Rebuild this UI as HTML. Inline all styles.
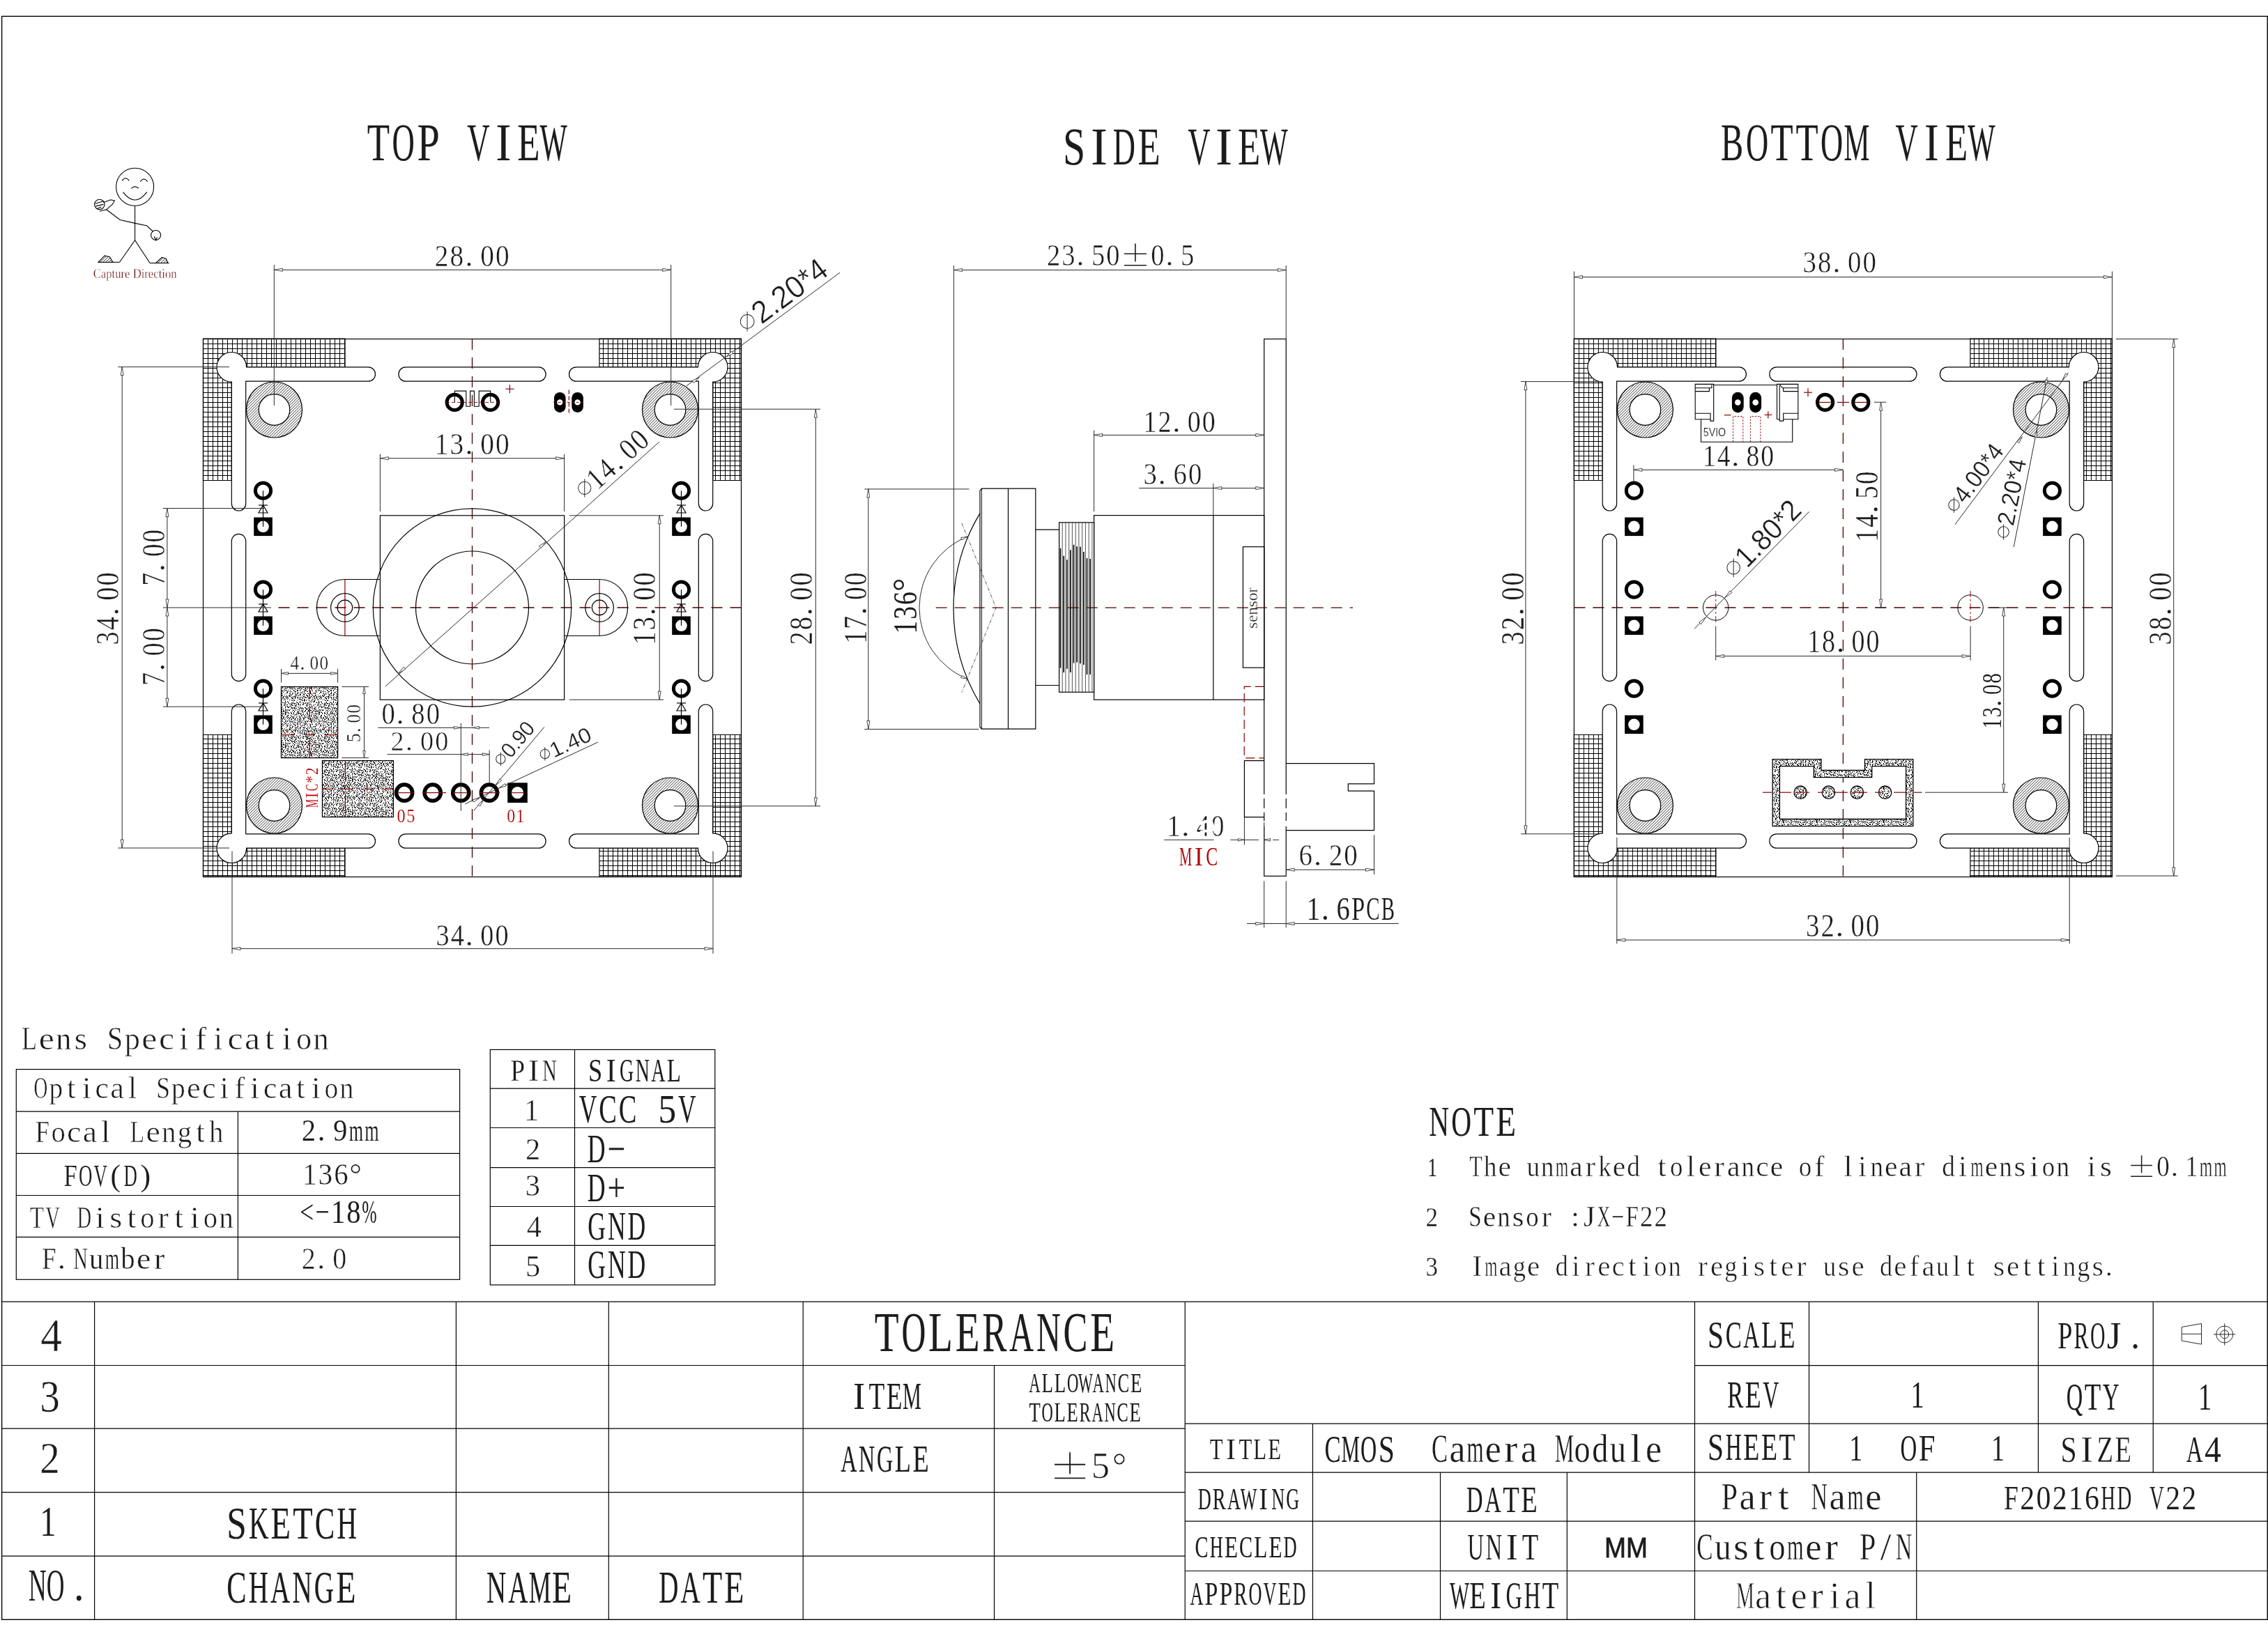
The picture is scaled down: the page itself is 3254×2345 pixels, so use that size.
<!DOCTYPE html>
<html><head><meta charset="utf-8"><title>drawing</title><style>
html,body{margin:0;padding:0;background:#fff}
svg{display:block;will-change:transform}
.o{fill:none;stroke:#000;stroke-width:1.2}
.ow{fill:#fff;stroke:#000;stroke-width:1.2}
.d{fill:none;stroke:#2a2a2a;stroke-width:1}
.c{fill:none;stroke:#4a0000;stroke-width:1.3;stroke-dasharray:16 11}
.r{fill:none;stroke:#8a0000;stroke-width:1.2}
.ah{fill:#fff;stroke:#333;stroke-width:0.9}
.gl{fill:none;stroke:#000;stroke-width:1.0}
.dh{fill:url(#diag);stroke:#000;stroke-width:1.2}
.st{fill:url(#stp);stroke:#000;stroke-width:1.3}
.ring{fill:none;stroke:#000}
.blk{fill:#000;stroke:none}
.blkf{fill:#222;stroke:#000;stroke-width:1}
.wh{fill:#fff;stroke:none}
.wl{fill:none;stroke:#fff;stroke-width:2.5}
text{white-space:pre}
</style></head><body>
<svg width="3254" height="2345" viewBox="0 0 3254 2345">
<defs>
<pattern id="grid" width="7" height="7" patternUnits="userSpaceOnUse" x="0.5" y="0.5"><rect width="7" height="7" fill="#fff"/><path d="M0 0.6H7M0.6 0V7" stroke="#000" stroke-width="1.25"/></pattern>
<pattern id="diag" width="4" height="4" patternUnits="userSpaceOnUse"><rect width="4" height="4" fill="#fff"/><path d="M-1 5L5 -1M-1 1L1 -1M3 5L5 3" stroke="#000" stroke-width="0.8"/></pattern>
<pattern id="stp" width="48" height="48" patternUnits="userSpaceOnUse"><rect width="48" height="48" fill="#fff"/><path d="M1 0h1M3 0h1M6 0h1M8 0h1M10 0h1M14 0h1M21 0h2M24 0h1M26 0h1M29 0h1M34 0h1M36 0h1M42 0h2M46 0h1M3 1h2M6 1h1M9 1h1M11 1h1M25 1h1M30 1h1M33 1h1M35 1h1M37 1h2M40 1h1M44 1h1M2 2h1M7 2h1M9 2h1M13 2h1M23 2h2M31 2h1M33 2h1M35 2h1M38 2h1M40 2h1M43 2h2M47 2h1M2 3h2M8 3h1M11 3h2M14 3h1M18 3h1M20 3h1M25 3h1M27 3h2M33 3h2M41 3h1M44 3h1M46 3h1M7 4h1M9 4h1M17 4h1M23 4h2M33 4h1M35 4h2M39 4h2M46 4h1M7 5h1M9 5h1M12 5h1M14 5h2M26 5h1M28 5h1M31 5h1M39 5h1M41 5h1M12 6h1M16 6h1M19 6h1M21 6h1M25 6h1M28 6h2M32 6h2M39 6h1M43 6h1M46 6h1M1 7h1M5 7h2M10 7h1M12 7h2M15 7h1M20 7h1M25 7h1M29 7h2M34 7h2M37 7h2M44 7h1M47 7h1M0 8h1M2 8h1M6 8h1M8 8h1M10 8h1M12 8h1M15 8h1M18 8h2M34 8h1M36 8h1M38 8h1M40 8h2M45 8h1M47 8h1M0 9h1M2 9h2M7 9h2M12 9h1M16 9h1M18 9h1M20 9h1M22 9h1M25 9h1M35 9h1M38 9h2M45 9h1M7 10h1M9 10h1M11 10h2M19 10h2M26 10h1M28 10h1M30 10h1M32 10h1M42 10h1M44 10h1M0 11h1M2 11h1M6 11h1M10 11h2M13 11h2M17 11h1M22 11h1M25 11h1M27 11h1M30 11h2M36 11h2M40 11h1M45 11h1M1 12h2M5 12h2M10 12h1M17 12h1M19 12h2M22 12h2M25 12h1M28 12h1M38 12h1M43 12h1M46 12h1M1 13h1M4 13h1M9 13h1M11 13h2M15 13h2M20 13h1M22 13h1M24 13h1M26 13h1M35 13h1M38 13h1M42 13h1M44 13h1M2 14h1M8 14h1M14 14h1M16 14h1M25 14h2M28 14h2M33 14h1M37 14h1M42 14h1M44 14h1M3 15h1M8 15h1M12 15h1M15 15h1M20 15h2M25 15h2M30 15h1M33 15h2M37 15h1M42 15h1M44 15h2M47 15h1M0 16h1M8 16h2M12 16h1M17 16h1M19 16h1M22 16h2M25 16h1M30 16h1M34 16h1M37 16h1M41 16h1M43 16h2M46 16h1M2 17h2M6 17h1M9 17h1M15 17h1M21 17h1M25 17h2M36 17h1M39 17h1M41 17h1M47 17h1M0 18h1M4 18h1M11 18h2M14 18h1M18 18h1M20 18h1M28 18h2M33 18h1M38 18h1M40 18h1M0 19h2M4 19h1M7 19h1M9 19h1M11 19h1M14 19h1M18 19h1M20 19h2M24 19h1M29 19h1M33 19h1M43 19h1M45 19h1M5 20h1M10 20h1M14 20h1M18 20h1M22 20h1M27 20h2M34 20h2M37 20h1M41 20h1M46 20h1M2 21h1M5 21h2M8 21h1M19 21h1M22 21h2M27 21h1M29 21h1M32 21h1M35 21h1M37 21h1M41 21h1M45 21h2M3 22h2M9 22h2M13 22h1M16 22h2M19 22h2M22 22h1M25 22h1M29 22h1M31 22h2M36 22h2M39 22h1M47 22h2M3 23h2M10 23h1M12 23h2M15 23h1M21 23h1M23 23h1M28 23h1M31 23h1M34 23h1M36 23h1M39 23h1M42 23h2M45 23h1M47 23h1M3 24h1M12 24h2M15 24h1M18 24h1M21 24h1M24 24h1M30 24h1M33 24h2M38 24h2M45 24h1M47 24h1M5 25h1M10 25h1M13 25h2M16 25h1M18 25h1M25 25h2M40 25h1M42 25h2M45 25h1M47 25h2M1 26h1M3 26h1M8 26h1M14 26h2M19 26h1M21 26h1M28 26h1M30 26h2M33 26h1M36 26h1M38 26h1M46 26h1M5 27h2M8 27h2M11 27h1M13 27h2M17 27h1M21 27h1M25 27h2M28 27h1M32 27h1M34 27h2M44 27h2M47 27h1M0 28h2M6 28h1M14 28h2M19 28h1M23 28h1M26 28h1M31 28h1M33 28h1M36 28h1M38 28h2M42 28h2M45 28h1M3 29h1M5 29h1M8 29h1M15 29h1M24 29h1M35 29h1M40 29h1M47 29h1M4 30h1M6 30h2M11 30h1M21 30h1M25 30h2M29 30h1M32 30h1M37 30h1M42 30h2M46 30h1M5 31h2M13 31h1M15 31h2M20 31h1M22 31h1M24 31h1M27 31h1M37 31h2M42 31h2M46 31h1M2 32h1M4 32h1M8 32h2M12 32h2M21 32h1M28 32h1M30 32h1M32 32h1M34 32h1M39 32h2M1 33h1M4 33h1M13 33h1M22 33h1M27 33h2M32 33h1M39 33h1M43 33h1M47 33h1M0 34h1M13 34h1M17 34h1M19 34h2M28 34h1M35 34h1M37 34h1M43 34h1M2 35h1M4 35h1M6 35h1M9 35h2M12 35h2M15 35h1M18 35h1M20 35h1M26 35h1M31 35h2M35 35h1M39 35h1M42 35h2M46 35h1M3 36h2M15 36h1M33 36h1M35 36h1M40 36h2M46 36h2M4 37h1M7 37h2M11 37h1M15 37h1M20 37h2M24 37h1M31 37h1M33 37h1M39 37h1M43 37h1M46 37h1M2 38h1M8 38h2M16 38h1M18 38h1M20 38h1M27 38h1M30 38h2M33 38h1M40 38h2M44 38h1M46 38h1M3 39h2M9 39h1M14 39h1M17 39h1M19 39h1M22 39h1M24 39h1M26 39h1M28 39h1M31 39h2M36 39h1M38 39h2M0 40h1M2 40h1M5 40h2M8 40h1M10 40h1M14 40h1M18 40h2M21 40h2M25 40h1M27 40h1M29 40h1M34 40h1M37 40h1M39 40h2M42 40h2M46 40h1M2 41h1M5 41h1M7 41h1M11 41h1M13 41h1M16 41h1M22 41h1M27 41h2M34 41h2M39 41h1M43 41h1M46 41h1M2 42h1M10 42h2M18 42h2M21 42h1M23 42h1M26 42h1M29 42h1M35 42h2M39 42h1M43 42h1M46 42h1M1 43h1M4 43h2M16 43h1M24 43h1M28 43h1M33 43h1M36 43h1M45 43h1M47 43h1M0 44h1M4 44h1M8 44h1M11 44h1M15 44h1M18 44h1M20 44h1M23 44h1M25 44h1M31 44h1M38 44h1M43 44h1M46 44h1M1 45h2M4 45h2M7 45h1M11 45h1M15 45h1M19 45h1M34 45h2M37 45h2M4 46h1M13 46h1M15 46h1M18 46h2M25 46h1M28 46h1M46 46h1M12 47h1M17 47h2M25 47h1M29 47h1M36 47h1M41 47h1M46 47h1" stroke="#000" stroke-width="1" transform="translate(0 0.5)"/></pattern>
</defs>
<rect class="o" x="2.6" y="23.4" width="3250.6" height="2300.9" style="stroke-width:1.4"/>
<path class="o" d="M2.6 1868.2L3253.2 1868.2"/>
<path class="o" d="M2.6 1959.5L1700.2 1959.5"/>
<path class="o" d="M2.6 2050.2L1700.2 2050.2"/>
<path class="o" d="M2.6 2141.7L1700.2 2141.7"/>
<path class="o" d="M2.6 2233.2L1700.2 2233.2"/>
<path class="o" d="M135.6 1868.2L135.6 2324.3"/>
<path class="o" d="M654.4 1868.2L654.4 2324.3"/>
<path class="o" d="M873.3 1868.2L873.3 2324.3"/>
<path class="o" d="M1152.2 1868.2L1152.2 2324.3"/>
<path class="o" d="M1700.2 1868.2L1700.2 2324.3"/>
<path class="o" d="M1426.5 1959.5L1426.5 2324.3"/>
<path class="o" d="M1700.2 2043.2L3253.2 2043.2"/>
<path class="o" d="M1700.2 2113.2L3253.2 2113.2"/>
<path class="o" d="M1700.2 2183.2L3253.2 2183.2"/>
<path class="o" d="M1700.2 2254.5L3253.2 2254.5"/>
<path class="o" d="M2431.5 1959.6L3253.2 1959.6"/>
<path class="o" d="M1883.4 2043.2L1883.4 2324.3"/>
<path class="o" d="M2066.5 2113.2L2066.5 2324.3"/>
<path class="o" d="M2248.3 2113.2L2248.3 2324.3"/>
<path class="o" d="M2431.5 1868.2L2431.5 2324.3"/>
<path class="o" d="M2595.5 1868.2L2595.5 2113.2"/>
<path class="o" d="M2924.4 1868.2L2924.4 2113.2"/>
<path class="o" d="M3089.2 1868.2L3089.2 2113.2"/>
<path class="o" d="M2749.7 2113.2L2749.7 2324.3"/>
<g transform="translate(59 1938.5)">
<g style="font-family:'Liberation Serif';font-size:67.9px;fill:#1c1c1c;stroke:#fff;stroke-width:0.5;text-anchor:middle">
<text transform="matrix(0.904 0 0 1 14.5 0)">4</text>
</g>
</g>
<g transform="translate(58.1 2026.2)">
<g style="font-family:'Liberation Serif';font-size:65.3px;fill:#1c1c1c;stroke:#fff;stroke-width:0.4;text-anchor:middle">
<text transform="matrix(0.875 0 0 1 13.5 0)">3</text>
</g>
</g>
<g transform="translate(58.1 2113.9)">
<g style="font-family:'Liberation Serif';font-size:63.1px;fill:#1c1c1c;stroke:#fff;stroke-width:0.5;text-anchor:middle">
<text transform="matrix(0.907 0 0 1 13.5 0)">2</text>
</g>
</g>
<g transform="translate(58 2203.8)">
<g style="font-family:'Liberation Serif';font-size:61.8px;fill:#1c1c1c;stroke:#1c1c1c;stroke-width:0;text-anchor:middle">
<text transform="matrix(0.753 0 0 1 11 0)">1</text>
</g>
</g>
<g transform="translate(42.9 2296.6)">
<g style="font-family:'Liberation Serif';font-size:64.6px;fill:#1c1c1c;text-anchor:middle">
<text transform="matrix(0.55 0 0 1 11 0)">N</text>
<text transform="matrix(0.55 0 0 1 36.8 0)">O</text>
<text transform="matrix(0.928 0 0 1 70.3 0)">.</text>
</g>
</g>
<g transform="translate(326.1 2208.3)">
<g style="font-family:'Liberation Serif';font-size:66.4px;fill:#1c1c1c;stroke:#1c1c1c;stroke-width:0.1;text-anchor:middle">
<text transform="matrix(0.771 0 0 1 13.4 0)">S</text>
<text transform="matrix(0.594 0 0 1 45.1 0)">K</text>
<text transform="matrix(0.702 0 0 1 76.7 0)">E</text>
<text transform="matrix(0.702 0 0 1 108.4 0)">T</text>
<text transform="matrix(0.643 0 0 1 140 0)">C</text>
<text transform="matrix(0.594 0 0 1 171.7 0)">H</text>
</g>
</g>
<g transform="translate(326.1 2299.8)">
<g style="font-family:'Liberation Serif';font-size:65.3px;fill:#1c1c1c;stroke:#1c1c1c;stroke-width:0.2;text-anchor:middle">
<text transform="matrix(0.648 0 0 1 13.3 0)">C</text>
<text transform="matrix(0.599 0 0 1 44.7 0)">H</text>
<text transform="matrix(0.599 0 0 1 76.1 0)">A</text>
<text transform="matrix(0.599 0 0 1 107.5 0)">N</text>
<text transform="matrix(0.599 0 0 1 138.9 0)">G</text>
<text transform="matrix(0.708 0 0 1 170.3 0)">E</text>
</g>
</g>
<g transform="translate(698.7 2299.8)">
<g style="font-family:'Liberation Serif';font-size:65.3px;fill:#1c1c1c;stroke:#1c1c1c;stroke-width:0.2;text-anchor:middle">
<text transform="matrix(0.597 0 0 1 13.3 0)">N</text>
<text transform="matrix(0.597 0 0 1 44.6 0)">A</text>
<text transform="matrix(0.55 0 0 1 76 0)">M</text>
<text transform="matrix(0.706 0 0 1 107.3 0)">E</text>
</g>
</g>
<g transform="translate(946 2299.8)">
<g style="font-family:'Liberation Serif';font-size:65.3px;fill:#1c1c1c;stroke:#1c1c1c;stroke-width:0.1;text-anchor:middle">
<text transform="matrix(0.598 0 0 1 13.3 0)">D</text>
<text transform="matrix(0.598 0 0 1 44.7 0)">A</text>
<text transform="matrix(0.707 0 0 1 76 0)">T</text>
<text transform="matrix(0.707 0 0 1 107.4 0)">E</text>
</g>
</g>
<g transform="translate(1255.6 1938.5)">
<g style="font-family:'Liberation Serif';font-size:81.4px;fill:#1c1c1c;stroke:#1c1c1c;stroke-width:0.2;text-anchor:middle">
<text transform="matrix(0.701 0 0 1 16.5 0)">T</text>
<text transform="matrix(0.593 0 0 1 55.2 0)">O</text>
<text transform="matrix(0.701 0 0 1 93.9 0)">L</text>
<text transform="matrix(0.701 0 0 1 132.6 0)">E</text>
<text transform="matrix(0.642 0 0 1 171.3 0)">R</text>
<text transform="matrix(0.593 0 0 1 210 0)">A</text>
<text transform="matrix(0.593 0 0 1 248.7 0)">N</text>
<text transform="matrix(0.642 0 0 1 287.4 0)">C</text>
<text transform="matrix(0.701 0 0 1 326.1 0)">E</text>
</g>
</g>
<g transform="translate(1221.9 2022.4)">
<g style="font-family:'Liberation Serif';font-size:55px;fill:#1c1c1c;text-anchor:middle">
<text transform="matrix(0.938 0 0 1 10.8 0)">I</text>
<text transform="matrix(0.678 0 0 1 36.1 0)">T</text>
<text transform="matrix(0.678 0 0 1 61.3 0)">E</text>
<text transform="matrix(0.55 0 0 1 86.6 0)">M</text>
</g>
</g>
<g transform="translate(1476.8 1997.7)">
<g style="font-family:'Liberation Serif';font-size:40.2px;fill:#1c1c1c;stroke:#1c1c1c;stroke-width:0.1;text-anchor:middle">
<text transform="matrix(0.565 0 0 1 7.7 0)">A</text>
<text transform="matrix(0.668 0 0 1 25.9 0)">L</text>
<text transform="matrix(0.668 0 0 1 44.1 0)">L</text>
<text transform="matrix(0.565 0 0 1 62.3 0)">O</text>
<text transform="matrix(0.55 0 0 1 80.6 0)">W</text>
<text transform="matrix(0.565 0 0 1 98.8 0)">A</text>
<text transform="matrix(0.565 0 0 1 117 0)">N</text>
<text transform="matrix(0.612 0 0 1 135.2 0)">C</text>
<text transform="matrix(0.668 0 0 1 153.4 0)">E</text>
</g>
</g>
<g transform="translate(1476.8 2039.7)">
<g style="font-family:'Liberation Serif';font-size:40.2px;fill:#1c1c1c;stroke:#1c1c1c;stroke-width:0.1;text-anchor:middle">
<text transform="matrix(0.662 0 0 1 7.7 0)">T</text>
<text transform="matrix(0.56 0 0 1 25.7 0)">O</text>
<text transform="matrix(0.662 0 0 1 43.7 0)">L</text>
<text transform="matrix(0.662 0 0 1 61.8 0)">E</text>
<text transform="matrix(0.606 0 0 1 79.8 0)">R</text>
<text transform="matrix(0.56 0 0 1 97.8 0)">A</text>
<text transform="matrix(0.56 0 0 1 115.9 0)">N</text>
<text transform="matrix(0.606 0 0 1 133.9 0)">C</text>
<text transform="matrix(0.662 0 0 1 151.9 0)">E</text>
</g>
</g>
<g transform="translate(1206.9 2112.4)">
<g style="font-family:'Liberation Serif';font-size:53.9px;fill:#1c1c1c;stroke:#1c1c1c;stroke-width:0.1;text-anchor:middle">
<text transform="matrix(0.597 0 0 1 11 0)">A</text>
<text transform="matrix(0.597 0 0 1 36.8 0)">N</text>
<text transform="matrix(0.597 0 0 1 62.6 0)">G</text>
<text transform="matrix(0.706 0 0 1 88.4 0)">L</text>
<text transform="matrix(0.706 0 0 1 114.2 0)">E</text>
</g>
</g>
<g transform="translate(1508 2121.4)">
<g style="font-family:'Liberation Serif';font-size:52.5px;fill:#1c1c1c;stroke:#fff;stroke-width:0.7;text-anchor:middle">
<path d="M5.1 -19.6H49.1M27.1 -37.2V-6.2M5.1 0H49.1" style="fill:none;stroke:#1c1c1c;stroke-width:1.9"/>
<text transform="matrix(1.004 0 0 1 71 0)">5</text>
<text transform="matrix(1 0 0 1 98 0)">°</text>
</g>
</g>
<g transform="translate(2450.6 1933.5)">
<g style="font-family:'Liberation Serif';font-size:54px;fill:#1c1c1c;stroke:#1c1c1c;stroke-width:0.1;text-anchor:middle">
<text transform="matrix(0.768 0 0 1 10.9 0)">S</text>
<text transform="matrix(0.64 0 0 1 36.6 0)">C</text>
<text transform="matrix(0.591 0 0 1 62.2 0)">A</text>
<text transform="matrix(0.699 0 0 1 87.8 0)">L</text>
<text transform="matrix(0.699 0 0 1 113.5 0)">E</text>
</g>
</g>
<g transform="translate(2478.9 2019.7)">
<g style="font-family:'Liberation Serif';font-size:53.9px;fill:#1c1c1c;stroke:#1c1c1c;stroke-width:0.1;text-anchor:middle">
<text transform="matrix(0.64 0 0 1 10.9 0)">R</text>
<text transform="matrix(0.698 0 0 1 36.4 0)">E</text>
<text transform="matrix(0.591 0 0 1 61.9 0)">V</text>
</g>
</g>
<g transform="translate(2742.1 2019.7)">
<g style="font-family:'Liberation Serif';font-size:53.9px;fill:#1c1c1c;stroke:#1c1c1c;stroke-width:0.1;text-anchor:middle">
<text transform="matrix(0.707 0 0 1 9 0)">1</text>
</g>
</g>
<g transform="translate(2952.7 1934.9)">
<g style="font-family:'Liberation Serif';font-size:54px;fill:#1c1c1c;stroke:#fff;stroke-width:0.1;text-anchor:middle">
<text transform="matrix(0.703 0 0 1 10 0)">P</text>
<text transform="matrix(0.586 0 0 1 33.4 0)">R</text>
<text transform="matrix(0.55 0 0 1 56.9 0)">O</text>
<text transform="matrix(0.975 0 0 1 80.4 0)">J</text>
<text transform="matrix(0.975 0 0 1 110.9 0)">.</text>
</g>
</g>
<g transform="translate(2965.4 2023.3)">
<g style="font-family:'Liberation Serif';font-size:54px;fill:#1c1c1c;stroke:#1c1c1c;stroke-width:0.1;text-anchor:middle">
<text transform="matrix(0.601 0 0 1 11.1 0)">Q</text>
<text transform="matrix(0.711 0 0 1 37.1 0)">T</text>
<text transform="matrix(0.601 0 0 1 63.2 0)">Y</text>
</g>
</g>
<g transform="translate(3154.4 2023.3)">
<g style="font-family:'Liberation Serif';font-size:54px;fill:#1c1c1c;stroke:#1c1c1c;stroke-width:0.1;text-anchor:middle">
<text transform="matrix(0.705 0 0 1 9 0)">1</text>
</g>
</g>
<g transform="translate(1736.3 2094)">
<g style="font-family:'Liberation Serif';font-size:43.2px;fill:#1c1c1c;stroke:#fff;stroke-width:0.1;text-anchor:middle">
<text transform="matrix(0.711 0 0 1 8.9 0)">T</text>
<text transform="matrix(0.975 0 0 1 29.7 0)">I</text>
<text transform="matrix(0.711 0 0 1 50.6 0)">T</text>
<text transform="matrix(0.711 0 0 1 71.4 0)">L</text>
<text transform="matrix(0.711 0 0 1 92.2 0)">E</text>
</g>
</g>
<g transform="translate(1901.1 2097.5)">
<g style="font-family:'Liberation Serif';font-size:53.9px;fill:#1c1c1c;stroke:#1c1c1c;stroke-width:0.1;text-anchor:middle">
<text transform="matrix(0.644 0 0 1 10.9 0)">C</text>
<text transform="matrix(0.55 0 0 1 36.6 0)">M</text>
<text transform="matrix(0.595 0 0 1 62.4 0)">O</text>
<text transform="matrix(0.772 0 0 1 88.1 0)">S</text>
</g>
</g>
<g transform="translate(2054.5 2097.5)">
<g style="font-family:'Liberation Serif';font-size:56.2px;fill:#1c1c1c;stroke:#fff;stroke-width:0.3;text-anchor:middle">
<text transform="matrix(0.615 0 0 1 10.9 0)">C</text>
<text transform="matrix(0.924 0 0 1 36.5 0)">a</text>
<text transform="matrix(0.55 0 0 1 62.1 0)">m</text>
<text transform="matrix(0.924 0 0 1 87.7 0)">e</text>
<text transform="matrix(1.02 0 0 1 113.3 0)">r</text>
<text transform="matrix(0.924 0 0 1 138.9 0)">a</text>
<text transform="matrix(0.55 0 0 1 190 0)">M</text>
<text transform="matrix(0.82 0 0 1 215.6 0)">o</text>
<text transform="matrix(0.82 0 0 1 241.2 0)">d</text>
<text transform="matrix(0.82 0 0 1 266.8 0)">u</text>
<text transform="matrix(1.02 0 0 1 292.4 0)">l</text>
<text transform="matrix(0.924 0 0 1 318 0)">e</text>
</g>
</g>
<g transform="translate(2450.6 2095.4)">
<g style="font-family:'Liberation Serif';font-size:54px;fill:#1c1c1c;stroke:#1c1c1c;stroke-width:0.1;text-anchor:middle">
<text transform="matrix(0.768 0 0 1 10.9 0)">S</text>
<text transform="matrix(0.591 0 0 1 36.6 0)">H</text>
<text transform="matrix(0.699 0 0 1 62.2 0)">E</text>
<text transform="matrix(0.699 0 0 1 87.8 0)">E</text>
<text transform="matrix(0.699 0 0 1 113.5 0)">T</text>
</g>
</g>
<g transform="translate(2653.7 2096.1)">
<g style="font-family:'Liberation Serif';font-size:51.8px;fill:#1c1c1c;stroke:#1c1c1c;stroke-width:0;text-anchor:middle">
<text transform="matrix(0.736 0 0 1 9 0)">1</text>
</g>
</g>
<g transform="translate(2727.1 2096.1)">
<g style="font-family:'Liberation Serif';font-size:51.8px;fill:#1c1c1c;stroke:#1c1c1c;stroke-width:0;text-anchor:middle">
<text transform="matrix(0.635 0 0 1 11.2 0)">O</text>
<text transform="matrix(0.825 0 0 1 37.6 0)">F</text>
</g>
</g>
<g transform="translate(2857.4 2096.1)">
<g style="font-family:'Liberation Serif';font-size:51.8px;fill:#1c1c1c;stroke:#1c1c1c;stroke-width:0;text-anchor:middle">
<text transform="matrix(0.736 0 0 1 9 0)">1</text>
</g>
</g>
<g transform="translate(2956.9 2097.5)">
<g style="font-family:'Liberation Serif';font-size:51.8px;fill:#1c1c1c;stroke:#fff;stroke-width:0.3;text-anchor:middle">
<text transform="matrix(0.816 0 0 1 11.1 0)">S</text>
<text transform="matrix(1.02 0 0 1 37.2 0)">I</text>
<text transform="matrix(0.743 0 0 1 63.3 0)">Z</text>
<text transform="matrix(0.743 0 0 1 89.4 0)">E</text>
</g>
</g>
<g transform="translate(3137.3 2097.5)">
<g style="font-family:'Liberation Serif';font-size:51.8px;fill:#1c1c1c;text-anchor:middle">
<text transform="matrix(0.635 0 0 1 11.2 0)">A</text>
<text transform="matrix(0.917 0 0 1 37.6 0)">4</text>
</g>
</g>
<g transform="translate(1719.3 2166.1)">
<g style="font-family:'Liberation Serif';font-size:45.3px;fill:#1c1c1c;stroke:#1c1c1c;stroke-width:0.1;text-anchor:middle">
<text transform="matrix(0.579 0 0 1 9 0)">D</text>
<text transform="matrix(0.627 0 0 1 30 0)">R</text>
<text transform="matrix(0.579 0 0 1 51.1 0)">A</text>
<text transform="matrix(0.55 0 0 1 72.1 0)">W</text>
<text transform="matrix(0.808 0 0 1 93.2 0)">I</text>
<text transform="matrix(0.579 0 0 1 114.3 0)">N</text>
<text transform="matrix(0.579 0 0 1 135.3 0)">G</text>
</g>
</g>
<g transform="translate(2104.7 2169.7)">
<g style="font-family:'Liberation Serif';font-size:53px;fill:#1c1c1c;stroke:#1c1c1c;stroke-width:0.1;text-anchor:middle">
<text transform="matrix(0.614 0 0 1 11.1 0)">D</text>
<text transform="matrix(0.614 0 0 1 37.2 0)">A</text>
<text transform="matrix(0.726 0 0 1 63.3 0)">T</text>
<text transform="matrix(0.726 0 0 1 89.4 0)">E</text>
</g>
</g>
<g transform="translate(2470.4 2166.1)">
<g style="font-family:'Liberation Serif';font-size:53.9px;fill:#1c1c1c;stroke:#fff;stroke-width:0.4;text-anchor:middle">
<text transform="matrix(0.775 0 0 1 11 0)">P</text>
<text transform="matrix(0.971 0 0 1 36.8 0)">a</text>
<text transform="matrix(1.02 0 0 1 62.6 0)">r</text>
<text transform="matrix(1.02 0 0 1 88.4 0)">t</text>
<text transform="matrix(0.597 0 0 1 140 0)">N</text>
<text transform="matrix(0.971 0 0 1 165.8 0)">a</text>
<text transform="matrix(0.554 0 0 1 191.6 0)">m</text>
<text transform="matrix(0.971 0 0 1 217.4 0)">e</text>
</g>
</g>
<g transform="translate(2875.6 2166.1)">
<g style="font-family:'Liberation Serif';font-size:47.5px;fill:#1c1c1c;stroke:#fff;stroke-width:0.1;text-anchor:middle">
<text transform="matrix(0.791 0 0 1 9.9 0)">F</text>
<text transform="matrix(0.88 0 0 1 33.1 0)">2</text>
<text transform="matrix(0.88 0 0 1 56.3 0)">0</text>
<text transform="matrix(0.88 0 0 1 79.5 0)">2</text>
<text transform="matrix(0.88 0 0 1 102.7 0)">1</text>
<text transform="matrix(0.88 0 0 1 125.9 0)">6</text>
<text transform="matrix(0.609 0 0 1 149.2 0)">H</text>
<text transform="matrix(0.609 0 0 1 172.4 0)">D</text>
<text transform="matrix(0.609 0 0 1 218.8 0)">V</text>
<text transform="matrix(0.88 0 0 1 242 0)">2</text>
<text transform="matrix(0.88 0 0 1 265.2 0)">2</text>
</g>
</g>
<g transform="translate(1715.1 2235.4)">
<g style="font-family:'Liberation Serif';font-size:45.3px;fill:#1c1c1c;stroke:#1c1c1c;stroke-width:0.1;text-anchor:middle">
<text transform="matrix(0.629 0 0 1 9 0)">C</text>
<text transform="matrix(0.581 0 0 1 30.1 0)">H</text>
<text transform="matrix(0.687 0 0 1 51.3 0)">E</text>
<text transform="matrix(0.629 0 0 1 72.5 0)">C</text>
<text transform="matrix(0.687 0 0 1 93.6 0)">L</text>
<text transform="matrix(0.687 0 0 1 114.8 0)">E</text>
<text transform="matrix(0.581 0 0 1 135.9 0)">D</text>
</g>
</g>
<g transform="translate(2106.2 2237.6)">
<g style="font-family:'Liberation Serif';font-size:51.9px;fill:#1c1c1c;stroke:#fff;stroke-width:0.1;text-anchor:middle">
<text transform="matrix(0.626 0 0 1 11.1 0)">U</text>
<text transform="matrix(0.626 0 0 1 37.2 0)">N</text>
<text transform="matrix(0.964 0 0 1 63.2 0)">I</text>
<text transform="matrix(0.74 0 0 1 89.3 0)">T</text>
</g>
</g>
<g style="stroke:#1c1c1c;stroke-width:0.8">
<g transform="translate(2302 2234.8)">
<text style="font-family:'Liberation Sans';font-size:40.4px;fill:#1c1c1c" textLength="62" lengthAdjust="spacingAndGlyphs">MM</text>
</g>
</g>
<g transform="translate(2435 2237.6)">
<g style="font-family:'Liberation Serif';font-size:55.1px;fill:#1c1c1c;stroke:#fff;stroke-width:0.4;text-anchor:middle">
<text transform="matrix(0.636 0 0 1 11 0)">C</text>
<text transform="matrix(0.848 0 0 1 37 0)">u</text>
<text transform="matrix(1.02 0 0 1 62.9 0)">s</text>
<text transform="matrix(1.02 0 0 1 88.9 0)">t</text>
<text transform="matrix(0.848 0 0 1 114.9 0)">o</text>
<text transform="matrix(0.55 0 0 1 140.8 0)">m</text>
<text transform="matrix(0.955 0 0 1 166.8 0)">e</text>
<text transform="matrix(1.02 0 0 1 192.7 0)">r</text>
<text transform="matrix(0.762 0 0 1 244.7 0)">P</text>
<text transform="matrix(1.02 0 0 1 270.6 0)">/</text>
<text transform="matrix(0.587 0 0 1 296.6 0)">N</text>
</g>
</g>
<g transform="translate(1708 2302.6)">
<g style="font-family:'Liberation Serif';font-size:46.4px;fill:#1c1c1c;stroke:#1c1c1c;stroke-width:0.1;text-anchor:middle">
<text transform="matrix(0.564 0 0 1 8.9 0)">A</text>
<text transform="matrix(0.732 0 0 1 29.9 0)">P</text>
<text transform="matrix(0.732 0 0 1 50.9 0)">P</text>
<text transform="matrix(0.61 0 0 1 71.9 0)">R</text>
<text transform="matrix(0.564 0 0 1 92.9 0)">O</text>
<text transform="matrix(0.564 0 0 1 113.9 0)">V</text>
<text transform="matrix(0.666 0 0 1 134.9 0)">E</text>
<text transform="matrix(0.564 0 0 1 155.9 0)">D</text>
</g>
</g>
<g transform="translate(2082.8 2307.6)">
<g style="font-family:'Liberation Serif';font-size:54px;fill:#1c1c1c;stroke:#1c1c1c;stroke-width:0;text-anchor:middle">
<text transform="matrix(0.55 0 0 1 11.1 0)">W</text>
<text transform="matrix(0.712 0 0 1 37.2 0)">E</text>
<text transform="matrix(0.88 0 0 1 63.3 0)">I</text>
<text transform="matrix(0.602 0 0 1 89.5 0)">G</text>
<text transform="matrix(0.602 0 0 1 115.6 0)">H</text>
<text transform="matrix(0.712 0 0 1 141.7 0)">T</text>
</g>
</g>
<g transform="translate(2493 2307.6)">
<g style="font-family:'Liberation Serif';font-size:54px;fill:#1c1c1c;stroke:#fff;stroke-width:0.8;text-anchor:middle">
<text transform="matrix(0.55 0 0 1 10.9 0)">M</text>
<text transform="matrix(0.964 0 0 1 36.6 0)">a</text>
<text transform="matrix(1.02 0 0 1 62.3 0)">t</text>
<text transform="matrix(0.964 0 0 1 88 0)">e</text>
<text transform="matrix(1.02 0 0 1 113.6 0)">r</text>
<text transform="matrix(1.02 0 0 1 139.3 0)">i</text>
<text transform="matrix(0.964 0 0 1 165 0)">a</text>
<text transform="matrix(1.02 0 0 1 190.7 0)">l</text>
</g>
</g>
<path class="d" d="M3130.2 1904.5L3158.5 1899.5L3158.5 1929.2L3130.2 1924.2Z"/>
<path class="d" d="M3130.2 1914.4L3158.5 1914.4"/>
<circle class="d" cx="3191.7" cy="1915" r="12"/>
<circle class="d" cx="3191.7" cy="1915" r="6"/>
<path class="d" d="M3176 1915L3207.4 1915"/>
<path class="d" d="M3191.7 1899.3L3191.7 1930.7"/>
<g transform="translate(527.5 230)">
<g style="font-family:'Liberation Serif';font-size:75.6px;fill:#1c1c1c;stroke:#1c1c1c;stroke-width:0.1;text-anchor:middle">
<text transform="matrix(0.7 0 0 1 15.3 0)">T</text>
<text transform="matrix(0.592 0 0 1 51.2 0)">O</text>
<text transform="matrix(0.769 0 0 1 87.1 0)">P</text>
<text transform="matrix(0.592 0 0 1 159 0)">V</text>
<text transform="matrix(0.879 0 0 1 194.9 0)">I</text>
<text transform="matrix(0.7 0 0 1 230.8 0)">E</text>
<text transform="matrix(0.55 0 0 1 266.7 0)">W</text>
</g>
</g>
<g transform="translate(1526 236)">
<g style="font-family:'Liberation Serif';font-size:76.3px;fill:#1c1c1c;text-anchor:middle">
<text transform="matrix(0.759 0 0 1 15.2 0)">S</text>
<text transform="matrix(0.945 0 0 1 51 0)">I</text>
<text transform="matrix(0.585 0 0 1 86.9 0)">D</text>
<text transform="matrix(0.691 0 0 1 122.7 0)">E</text>
<text transform="matrix(0.585 0 0 1 194.3 0)">V</text>
<text transform="matrix(0.945 0 0 1 230.1 0)">I</text>
<text transform="matrix(0.691 0 0 1 266 0)">E</text>
<text transform="matrix(0.55 0 0 1 301.8 0)">W</text>
</g>
</g>
<g transform="translate(2470 230)">
<g style="font-family:'Liberation Serif';font-size:75.6px;fill:#1c1c1c;stroke:#1c1c1c;stroke-width:0.1;text-anchor:middle">
<text transform="matrix(0.638 0 0 1 15.2 0)">B</text>
<text transform="matrix(0.59 0 0 1 51 0)">O</text>
<text transform="matrix(0.697 0 0 1 86.7 0)">T</text>
<text transform="matrix(0.697 0 0 1 122.5 0)">T</text>
<text transform="matrix(0.59 0 0 1 158.2 0)">O</text>
<text transform="matrix(0.55 0 0 1 194 0)">M</text>
<text transform="matrix(0.59 0 0 1 265.5 0)">V</text>
<text transform="matrix(0.818 0 0 1 301.3 0)">I</text>
<text transform="matrix(0.697 0 0 1 337 0)">E</text>
<text transform="matrix(0.55 0 0 1 372.8 0)">W</text>
</g>
</g>
<g transform="translate(677.5 872)">
<path class="gl" d="M-386 -386V-345.2M-379 -386V-345.2M-372 -386V-345.2M-365 -386V-345.2M-358 -386V-345.2M-351 -386V-345.2M-344 -386V-345.2M-337 -386V-345.2M-330 -386V-345.2M-323 -386V-345.2M-316 -386V-345.2M-309 -386V-345.2M-302 -386V-345.2M-295 -386V-345.2M-288 -386V-345.2M-281 -386V-345.2M-274 -386V-345.2M-267 -386V-345.2M-260 -386V-345.2M-253 -386V-345.2M-246 -386V-345.2M-239 -386V-345.2M-232 -386V-345.2M-225 -386V-345.2M-218 -386V-345.2M-211 -386V-345.2M-204 -386V-345.2M-197 -386V-345.2M-190 -386V-345.2M-183 -386V-345.2M-386 -385.5H-182.5M-386 -378.5H-182.5M-386 -371.5H-182.5M-386 -364.5H-182.5M-386 -357.5H-182.5M-386 -350.5H-182.5"/>
<path class="gl" d="M-386 -345.2V-182.5M-379 -345.2V-182.5M-372 -345.2V-182.5M-365 -345.2V-182.5M-358 -345.2V-182.5M-351 -345.2V-182.5M-386 -343.5H-345.2M-386 -336.5H-345.2M-386 -329.5H-345.2M-386 -322.5H-345.2M-386 -315.5H-345.2M-386 -308.5H-345.2M-386 -301.5H-345.2M-386 -294.5H-345.2M-386 -287.5H-345.2M-386 -280.5H-345.2M-386 -273.5H-345.2M-386 -266.5H-345.2M-386 -259.5H-345.2M-386 -252.5H-345.2M-386 -245.5H-345.2M-386 -238.5H-345.2M-386 -231.5H-345.2M-386 -224.5H-345.2M-386 -217.5H-345.2M-386 -210.5H-345.2M-386 -203.5H-345.2M-386 -196.5H-345.2M-386 -189.5H-345.2M-386 -182.5H-345.2"/>
<path class="o" d="M-386 -386L-182.5 -386L-182.5 -345.2L-345.2 -345.2L-345.2 -182.5L-386 -182.5Z"/>
<path class="gl" d="M-386 345.2V386M-379 345.2V386M-372 345.2V386M-365 345.2V386M-358 345.2V386M-351 345.2V386M-344 345.2V386M-337 345.2V386M-330 345.2V386M-323 345.2V386M-316 345.2V386M-309 345.2V386M-302 345.2V386M-295 345.2V386M-288 345.2V386M-281 345.2V386M-274 345.2V386M-267 345.2V386M-260 345.2V386M-253 345.2V386M-246 345.2V386M-239 345.2V386M-232 345.2V386M-225 345.2V386M-218 345.2V386M-211 345.2V386M-204 345.2V386M-197 345.2V386M-190 345.2V386M-183 345.2V386M-386 349.5H-182.5M-386 356.5H-182.5M-386 363.5H-182.5M-386 370.5H-182.5M-386 377.5H-182.5M-386 384.5H-182.5"/>
<path class="gl" d="M-386 182.5V345.2M-379 182.5V345.2M-372 182.5V345.2M-365 182.5V345.2M-358 182.5V345.2M-351 182.5V345.2M-386 188.5H-345.2M-386 195.5H-345.2M-386 202.5H-345.2M-386 209.5H-345.2M-386 216.5H-345.2M-386 223.5H-345.2M-386 230.5H-345.2M-386 237.5H-345.2M-386 244.5H-345.2M-386 251.5H-345.2M-386 258.5H-345.2M-386 265.5H-345.2M-386 272.5H-345.2M-386 279.5H-345.2M-386 286.5H-345.2M-386 293.5H-345.2M-386 300.5H-345.2M-386 307.5H-345.2M-386 314.5H-345.2M-386 321.5H-345.2M-386 328.5H-345.2M-386 335.5H-345.2M-386 342.5H-345.2"/>
<path class="o" d="M-386 386L-182.5 386L-182.5 345.2L-345.2 345.2L-345.2 182.5L-386 182.5Z"/>
<path class="gl" d="M188 -386V-345.2M195 -386V-345.2M202 -386V-345.2M209 -386V-345.2M216 -386V-345.2M223 -386V-345.2M230 -386V-345.2M237 -386V-345.2M244 -386V-345.2M251 -386V-345.2M258 -386V-345.2M265 -386V-345.2M272 -386V-345.2M279 -386V-345.2M286 -386V-345.2M293 -386V-345.2M300 -386V-345.2M307 -386V-345.2M314 -386V-345.2M321 -386V-345.2M328 -386V-345.2M335 -386V-345.2M342 -386V-345.2M349 -386V-345.2M356 -386V-345.2M363 -386V-345.2M370 -386V-345.2M377 -386V-345.2M384 -386V-345.2M182.5 -385.5H386M182.5 -378.5H386M182.5 -371.5H386M182.5 -364.5H386M182.5 -357.5H386M182.5 -350.5H386"/>
<path class="gl" d="M349 -345.2V-182.5M356 -345.2V-182.5M363 -345.2V-182.5M370 -345.2V-182.5M377 -345.2V-182.5M384 -345.2V-182.5M345.2 -343.5H386M345.2 -336.5H386M345.2 -329.5H386M345.2 -322.5H386M345.2 -315.5H386M345.2 -308.5H386M345.2 -301.5H386M345.2 -294.5H386M345.2 -287.5H386M345.2 -280.5H386M345.2 -273.5H386M345.2 -266.5H386M345.2 -259.5H386M345.2 -252.5H386M345.2 -245.5H386M345.2 -238.5H386M345.2 -231.5H386M345.2 -224.5H386M345.2 -217.5H386M345.2 -210.5H386M345.2 -203.5H386M345.2 -196.5H386M345.2 -189.5H386M345.2 -182.5H386"/>
<path class="o" d="M386 -386L182.5 -386L182.5 -345.2L345.2 -345.2L345.2 -182.5L386 -182.5Z"/>
<path class="gl" d="M188 345.2V386M195 345.2V386M202 345.2V386M209 345.2V386M216 345.2V386M223 345.2V386M230 345.2V386M237 345.2V386M244 345.2V386M251 345.2V386M258 345.2V386M265 345.2V386M272 345.2V386M279 345.2V386M286 345.2V386M293 345.2V386M300 345.2V386M307 345.2V386M314 345.2V386M321 345.2V386M328 345.2V386M335 345.2V386M342 345.2V386M349 345.2V386M356 345.2V386M363 345.2V386M370 345.2V386M377 345.2V386M384 345.2V386M182.5 349.5H386M182.5 356.5H386M182.5 363.5H386M182.5 370.5H386M182.5 377.5H386M182.5 384.5H386"/>
<path class="gl" d="M349 182.5V345.2M356 182.5V345.2M363 182.5V345.2M370 182.5V345.2M377 182.5V345.2M384 182.5V345.2M345.2 188.5H386M345.2 195.5H386M345.2 202.5H386M345.2 209.5H386M345.2 216.5H386M345.2 223.5H386M345.2 230.5H386M345.2 237.5H386M345.2 244.5H386M345.2 251.5H386M345.2 258.5H386M345.2 265.5H386M345.2 272.5H386M345.2 279.5H386M345.2 286.5H386M345.2 293.5H386M345.2 300.5H386M345.2 307.5H386M345.2 314.5H386M345.2 321.5H386M345.2 328.5H386M345.2 335.5H386M345.2 342.5H386"/>
<path class="o" d="M386 386L182.5 386L182.5 345.2L345.2 345.2L345.2 182.5L386 182.5Z"/>
<rect class="o" x="-386" y="-385.5" width="772" height="772"/>
<path class="ow" d="M323.9 345.2A21.3 21.3 0 1 0 345.2 323.9L345.2 149.2A10.2 10.2 0 0 0 324.8 149.2L324.8 324.8L149.2 324.8A10.2 10.2 0 0 0 149.2 345.2Z"/>
<path class="ow" d="M323.9 -345.2A21.3 21.3 0 1 1 345.2 -323.9L345.2 -149.2A10.2 10.2 0 0 1 324.8 -149.2L324.8 -324.8L149.2 -324.8A10.2 10.2 0 0 1 149.2 -345.2Z"/>
<path class="ow" d="M-323.9 345.2A21.3 21.3 0 1 1 -345.2 323.9L-345.2 149.2A10.2 10.2 0 0 1 -324.8 149.2L-324.8 324.8L-149.2 324.8A10.2 10.2 0 0 1 -149.2 345.2Z"/>
<path class="ow" d="M-323.9 -345.2A21.3 21.3 0 1 0 -345.2 -323.9L-345.2 -149.2A10.2 10.2 0 0 0 -324.8 -149.2L-324.8 -324.8L-149.2 -324.8A10.2 10.2 0 0 0 -149.2 -345.2Z"/>
<rect class="ow" x="-105.6" y="-345.2" width="211.2" height="20.4" rx="10.2"/>
<rect class="ow" x="-345.2" y="-105.6" width="20.4" height="211.2" rx="10.2"/>
<rect class="ow" x="-105.6" y="324.8" width="211.2" height="20.4" rx="10.2"/>
<rect class="ow" x="324.8" y="-105.6" width="20.4" height="211.2" rx="10.2"/>
<circle class="dh" cx="-284" cy="-284" r="40"/>
<circle class="ow" cx="-284" cy="-284" r="22.3"/>
<circle class="dh" cx="-284" cy="284" r="40"/>
<circle class="ow" cx="-284" cy="284" r="22.3"/>
<circle class="dh" cx="284" cy="-284" r="40"/>
<circle class="ow" cx="284" cy="-284" r="22.3"/>
<circle class="dh" cx="284" cy="284" r="40"/>
<circle class="ow" cx="284" cy="284" r="22.3"/>
</g>
<circle class="ring" cx="377.5" cy="704.2" r="11.1" style="stroke-width:5"/>
<rect class="blk" x="364.2" y="742.5" width="26.6" height="26.6"/>
<circle class="wh" cx="377.5" cy="755.8" r="8.3"/>
<path class="o" d="M377.5 704.2L377.5 755.8"/>
<path class="ow" d="M371 736L384 736L377.5 725Z"/>
<path class="o" d="M371 725L384 725"/>
<path class="o" d="M377.5 725L377.5 736"/>
<circle class="ring" cx="377.5" cy="846.2" r="11.1" style="stroke-width:5"/>
<rect class="blk" x="364.2" y="884.5" width="26.6" height="26.6"/>
<circle class="wh" cx="377.5" cy="897.8" r="8.3"/>
<path class="o" d="M377.5 846.2L377.5 897.8"/>
<path class="ow" d="M371 878L384 878L377.5 867Z"/>
<path class="o" d="M371 867L384 867"/>
<path class="o" d="M377.5 867L377.5 878"/>
<circle class="ring" cx="377.5" cy="988.2" r="11.1" style="stroke-width:5"/>
<rect class="blk" x="364.2" y="1026.5" width="26.6" height="26.6"/>
<circle class="wh" cx="377.5" cy="1039.8" r="8.3"/>
<path class="o" d="M377.5 988.2L377.5 1039.8"/>
<path class="ow" d="M371 1020L384 1020L377.5 1009Z"/>
<path class="o" d="M371 1009L384 1009"/>
<path class="o" d="M377.5 1009L377.5 1020"/>
<circle class="ring" cx="977.5" cy="704.2" r="11.1" style="stroke-width:5"/>
<rect class="blk" x="964.2" y="742.5" width="26.6" height="26.6"/>
<circle class="wh" cx="977.5" cy="755.8" r="8.3"/>
<path class="o" d="M977.5 704.2L977.5 755.8"/>
<path class="ow" d="M971 736L984 736L977.5 725Z"/>
<path class="o" d="M971 725L984 725"/>
<path class="o" d="M977.5 725L977.5 736"/>
<circle class="ring" cx="977.5" cy="846.2" r="11.1" style="stroke-width:5"/>
<rect class="blk" x="964.2" y="884.5" width="26.6" height="26.6"/>
<circle class="wh" cx="977.5" cy="897.8" r="8.3"/>
<path class="o" d="M977.5 846.2L977.5 897.8"/>
<path class="ow" d="M971 878L984 878L977.5 867Z"/>
<path class="o" d="M971 867L984 867"/>
<path class="o" d="M977.5 867L977.5 878"/>
<circle class="ring" cx="977.5" cy="988.2" r="11.1" style="stroke-width:5"/>
<rect class="blk" x="964.2" y="1026.5" width="26.6" height="26.6"/>
<circle class="wh" cx="977.5" cy="1039.8" r="8.3"/>
<path class="o" d="M977.5 988.2L977.5 1039.8"/>
<path class="ow" d="M971 1020L984 1020L977.5 1009Z"/>
<path class="o" d="M971 1009L984 1009"/>
<path class="o" d="M977.5 1009L977.5 1020"/>
<path class="c" d="M677.5 486.5L677.5 1257.5" style="stroke-dashoffset:0.5"/>
<path class="c" d="M388 872L1064 872" style="stroke-dashoffset:15.5"/>
<rect class="o" x="545.4" y="739.8" width="264.2" height="264.4"/>
<circle class="o" cx="677.5" cy="872" r="142.2"/>
<circle class="o" cx="677.5" cy="872" r="81"/>
<path class="o" d="M545.4 831.5L494.9 831.5A40.5 40.5 0 0 0 494.9 912.5L545.4 912.5"/>
<path class="r" d="M494.9 831.5L494.9 912.5"/>
<circle class="o" cx="494.9" cy="872" r="20.3"/>
<circle class="o" cx="494.9" cy="872" r="10.8"/>
<path class="o" d="M809.6 831.5L860.1 831.5A40.5 40.5 0 0 1 860.1 912.5L809.6 912.5"/>
<path class="r" d="M860.1 831.5L860.1 912.5"/>
<circle class="o" cx="860.1" cy="872" r="20.3"/>
<circle class="o" cx="860.1" cy="872" r="10.8"/>
<circle class="ring" cx="652.2" cy="577.4" r="11.1" style="stroke-width:5"/>
<circle class="ring" cx="703.6" cy="577.4" r="11.1" style="stroke-width:5"/>
<path class="o" d="M652.3 577.3L652.3 561.1L668.8 561.1L668.8 583.2L674.6 583.2L674.6 561.1L680.4 561.1L680.4 583.2L687.2 583.2L687.2 561.1L703.7 561.1L703.7 577.3" style="stroke-width:1.1"/>
<path class="r" d="M640 577.4L716 577.4" stroke-dasharray="5 3" style="stroke-width:0.9"/>
<path class="r" d="M725.4 558.2L737.4 558.2"/>
<path class="r" d="M731.4 552.2L731.4 564.2"/>
<rect class="blk" x="795" y="562.9" width="16.6" height="29" rx="8.3"/>
<circle class="wh" cx="803.3" cy="577.4" r="4.2"/>
<rect class="blk" x="820.3" y="562.9" width="16.6" height="29" rx="8.3"/>
<circle class="wh" cx="828.6" cy="577.4" r="4.2"/>
<path class="r" d="M816.3 559.5L816.3 595" stroke-dasharray="6 3"/>
<path class="r" d="M794 577.4L839.5 577.4" stroke-dasharray="4 2.5" style="stroke-width:0.9"/>
<rect class="st" x="403.5" y="985.6" width="81.1" height="102"/>
<rect class="st" x="462.5" y="1091.6" width="101.9" height="80.9"/>
<circle class="d" cx="444.2" cy="1054.6" r="5.5"/>
<circle class="d" cx="495.4" cy="1132.4" r="5.5"/>
<path class="r" d="M444.2 985.6L444.2 1003"/>
<path class="r" d="M444.2 1018L444.2 1031"/>
<path class="r" d="M444.2 1061L444.2 1087.6"/>
<path class="r" d="M403.5 1054.6L423 1054.6"/>
<path class="r" d="M438 1054.6L450 1054.6"/>
<path class="r" d="M465 1054.6L484.6 1054.6"/>
<path class="r" d="M495.4 1091.6L495.4 1122"/>
<path class="r" d="M495.4 1141L495.4 1172.5"/>
<path class="r" d="M462.5 1132.4L478 1132.4"/>
<path class="r" d="M489 1132.4L507 1132.4"/>
<path class="r" d="M520 1132.4L536 1132.4"/>
<path class="r" d="M547 1132.4L564.4 1132.4"/>
<g transform="translate(456 1158) rotate(-90)">
<g style="font-family:'Liberation Serif';font-size:24.4px;fill:#c00000;stroke:#fff;stroke-width:0.1;text-anchor:middle">
<text transform="matrix(0.55 0 0 1 4.9 0)">M</text>
<text transform="matrix(0.986 0 0 1 16.5 0)">I</text>
<text transform="matrix(0.638 0 0 1 28 0)">C</text>
<text transform="matrix(0.851 0 0 1 39.5 0)">*</text>
<text transform="matrix(0.851 0 0 1 51.1 0)">2</text>
</g>
</g>
<circle class="ring" cx="580.1" cy="1137.7" r="11.6" style="stroke-width:5.5"/>
<circle class="ring" cx="620.7" cy="1137.7" r="11.6" style="stroke-width:5.5"/>
<circle class="ring" cx="661.3" cy="1137.7" r="11.6" style="stroke-width:5.5"/>
<circle class="ring" cx="701.9" cy="1137.7" r="11.6" style="stroke-width:5.5"/>
<rect class="blk" x="728.2" y="1123.4" width="28.6" height="28.6"/>
<circle class="wh" cx="742.5" cy="1137.7" r="8.6"/>
<path class="r" d="M569 1137.7L594 1137.7"/>
<path class="r" d="M606 1137.7L640 1137.7"/>
<path class="r" d="M649 1137.7L672 1137.7"/>
<path class="r" d="M688 1137.7L717 1137.7"/>
<path class="r" d="M733 1137.7L752 1137.7"/>
<g transform="translate(570 1180.4)">
<g style="font-family:'Liberation Serif';font-size:27.2px;fill:#b00000;stroke:#fff;stroke-width:0.2;text-anchor:middle">
<text transform="matrix(0.895 0 0 1 5.7 0)">0</text>
<text transform="matrix(0.895 0 0 1 19.3 0)">5</text>
</g>
</g>
<g transform="translate(727.5 1180.4)">
<g style="font-family:'Liberation Serif';font-size:27.2px;fill:#b00000;stroke:#fff;stroke-width:0.2;text-anchor:middle">
<text transform="matrix(0.877 0 0 1 5.6 0)">0</text>
<text transform="matrix(0.877 0 0 1 18.9 0)">1</text>
</g>
</g>
<path class="d" d="M393.3 380L393.3 582"/>
<path class="d" d="M962.7 380L962.7 582"/>
<path class="d" d="M393.3 387.3L962.7 387.3"/>
<polygon class="ah" points="393.3,387.3 405.3,385.3 405.3,389.3"/>
<polygon class="ah" points="962.7,387.3 950.7,389.3 950.7,385.3"/>
<g transform="translate(624.3 382)">
<g style="font-family:'Liberation Serif';font-size:45px;fill:#1c1c1c;stroke:#fff;stroke-width:0.5;text-anchor:middle">
<text transform="matrix(0.873 0 0 1 9.3 0)">2</text>
<text transform="matrix(0.873 0 0 1 31.1 0)">8</text>
<text transform="matrix(1.02 0 0 1 48.6 0)">.</text>
<text transform="matrix(0.873 0 0 1 74.8 0)">0</text>
<text transform="matrix(0.873 0 0 1 96.6 0)">0</text>
</g>
</g>
<path class="d" d="M545.4 651.6L545.4 734"/>
<path class="d" d="M809.6 651.6L809.6 734"/>
<path class="d" d="M545.4 657.7L809.6 657.7"/>
<polygon class="ah" points="545.4,657.7 557.4,655.7 557.4,659.7"/>
<polygon class="ah" points="809.6,657.7 797.6,659.7 797.6,655.7"/>
<g transform="translate(624.3 651.6)">
<g style="font-family:'Liberation Serif';font-size:45.2px;fill:#1c1c1c;stroke:#fff;stroke-width:0.5;text-anchor:middle">
<text transform="matrix(0.87 0 0 1 9.3 0)">1</text>
<text transform="matrix(0.87 0 0 1 31.1 0)">3</text>
<text transform="matrix(1.02 0 0 1 48.6 0)">.</text>
<text transform="matrix(0.87 0 0 1 74.8 0)">0</text>
<text transform="matrix(0.87 0 0 1 96.6 0)">0</text>
</g>
</g>
<path class="d" d="M817 739.8L952 739.8"/>
<path class="d" d="M817 1004.2L952 1004.2"/>
<path class="d" d="M946.2 739.8L946.2 1004.2"/>
<polygon class="ah" points="946.2,739.8 948.2,751.8 944.2,751.8"/>
<polygon class="ah" points="946.2,1004.2 944.2,992.2 948.2,992.2"/>
<g transform="translate(940.3 925) rotate(-90)">
<g style="font-family:'Liberation Serif';font-size:45.5px;fill:#1c1c1c;stroke:#fff;stroke-width:0.4;text-anchor:middle">
<text transform="matrix(0.84 0 0 1 9 0)">1</text>
<text transform="matrix(0.84 0 0 1 30.3 0)">3</text>
<text transform="matrix(1.02 0 0 1 47.3 0)">.</text>
<text transform="matrix(0.84 0 0 1 72.7 0)">0</text>
<text transform="matrix(0.84 0 0 1 94 0)">0</text>
</g>
</g>
<path class="d" d="M967 587.2L1177 587.2"/>
<path class="d" d="M967 1156.8L1177 1156.8"/>
<path class="d" d="M1170.3 587.2L1170.3 1156.8"/>
<polygon class="ah" points="1170.3,587.2 1172.3,599.2 1168.3,599.2"/>
<polygon class="ah" points="1170.3,1156.8 1168.3,1144.8 1172.3,1144.8"/>
<g transform="translate(1164.8 925) rotate(-90)">
<g style="font-family:'Liberation Serif';font-size:45.5px;fill:#1c1c1c;stroke:#fff;stroke-width:0.4;text-anchor:middle">
<text transform="matrix(0.84 0 0 1 9 0)">2</text>
<text transform="matrix(0.84 0 0 1 30.3 0)">8</text>
<text transform="matrix(1.02 0 0 1 47.3 0)">.</text>
<text transform="matrix(0.84 0 0 1 72.7 0)">0</text>
<text transform="matrix(0.84 0 0 1 94 0)">0</text>
</g>
</g>
<path class="d" d="M169.3 526.6L329 526.6"/>
<path class="d" d="M169.3 1217L329 1217"/>
<path class="d" d="M175.2 526.6L175.2 1217"/>
<polygon class="ah" points="175.2,526.6 177.2,538.6 173.2,538.6"/>
<polygon class="ah" points="175.2,1217 173.2,1205 177.2,1205"/>
<g transform="translate(170.3 925) rotate(-90)">
<g style="font-family:'Liberation Serif';font-size:45.5px;fill:#1c1c1c;stroke:#fff;stroke-width:0.4;text-anchor:middle">
<text transform="matrix(0.84 0 0 1 9 0)">3</text>
<text transform="matrix(0.84 0 0 1 30.3 0)">4</text>
<text transform="matrix(1.02 0 0 1 47.3 0)">.</text>
<text transform="matrix(0.84 0 0 1 72.7 0)">0</text>
<text transform="matrix(0.84 0 0 1 94 0)">0</text>
</g>
</g>
<path class="d" d="M234 729.5L379 729.5"/>
<path class="d" d="M234 872L388 872"/>
<path class="d" d="M234 1014.2L379 1014.2"/>
<path class="d" d="M239.9 729.5L239.9 1014.2"/>
<polygon class="ah" points="239.9,729.5 241.9,741.5 237.9,741.5"/>
<polygon class="ah" points="239.9,872 237.9,860 241.9,860"/>
<polygon class="ah" points="239.9,872 241.9,884 237.9,884"/>
<polygon class="ah" points="239.9,1014.2 237.9,1002.2 241.9,1002.2"/>
<g transform="translate(236.3 840) rotate(-90)">
<g style="font-family:'Liberation Serif';font-size:45.5px;fill:#1c1c1c;stroke:#fff;stroke-width:0.4;text-anchor:middle">
<text transform="matrix(0.819 0 0 1 8.8 0)">7</text>
<text transform="matrix(1.02 0 0 1 25.4 0)">.</text>
<text transform="matrix(0.819 0 0 1 50.2 0)">0</text>
<text transform="matrix(0.819 0 0 1 70.9 0)">0</text>
</g>
</g>
<g transform="translate(236.3 983.5) rotate(-90)">
<g style="font-family:'Liberation Serif';font-size:45.5px;fill:#1c1c1c;stroke:#fff;stroke-width:0.5;text-anchor:middle">
<text transform="matrix(0.843 0 0 1 9.1 0)">7</text>
<text transform="matrix(1.02 0 0 1 26.1 0)">.</text>
<text transform="matrix(0.843 0 0 1 51.6 0)">0</text>
<text transform="matrix(0.843 0 0 1 72.9 0)">0</text>
</g>
</g>
<path class="d" d="M333 1221.6L333 1368.5"/>
<path class="d" d="M1023 1221.6L1023 1368.5"/>
<path class="d" d="M333 1361.4L1023 1361.4"/>
<polygon class="ah" points="333,1361.4 345,1359.4 345,1363.4"/>
<polygon class="ah" points="1023,1361.4 1011,1363.4 1011,1359.4"/>
<g transform="translate(626 1357)">
<g style="font-family:'Liberation Serif';font-size:45px;fill:#1c1c1c;stroke:#fff;stroke-width:0.4;text-anchor:middle">
<text transform="matrix(0.849 0 0 1 9 0)">3</text>
<text transform="matrix(0.849 0 0 1 30.3 0)">4</text>
<text transform="matrix(1.02 0 0 1 47.3 0)">.</text>
<text transform="matrix(0.849 0 0 1 72.7 0)">0</text>
<text transform="matrix(0.849 0 0 1 94 0)">0</text>
</g>
</g>
<path class="d" d="M403.5 959.8L403.5 979.6"/>
<path class="d" d="M484.6 959.8L484.6 979.6"/>
<path class="d" d="M403.5 966.4L484.6 966.4"/>
<polygon class="ah" points="403.5,966.4 413.5,964.6 413.5,968.2"/>
<polygon class="ah" points="484.6,966.4 474.6,968.2 474.6,964.6"/>
<g transform="translate(416.7 961)">
<g style="font-family:'Liberation Serif';font-size:29px;fill:#1c1c1c;stroke:#fff;stroke-width:0.3;text-anchor:middle">
<text transform="matrix(0.87 0 0 1 6 0)">4</text>
<text transform="matrix(1.02 0 0 1 17.2 0)">.</text>
<text transform="matrix(0.87 0 0 1 34 0)">0</text>
<text transform="matrix(0.87 0 0 1 48 0)">0</text>
</g>
</g>
<path class="d" d="M490.5 985.6L529 985.6"/>
<path class="d" d="M490.5 1087.6L529 1087.6"/>
<path class="d" d="M522.5 985.6L522.5 1087.6"/>
<polygon class="ah" points="522.5,985.6 524.3,995.6 520.7,995.6"/>
<polygon class="ah" points="522.5,1087.6 520.7,1077.6 524.3,1077.6"/>
<g transform="translate(517 1064.5) rotate(-90)">
<g style="font-family:'Liberation Serif';font-size:29px;fill:#1c1c1c;stroke:#fff;stroke-width:0.3;text-anchor:middle">
<text transform="matrix(0.853 0 0 1 5.8 0)">5</text>
<text transform="matrix(1.02 0 0 1 16.8 0)">.</text>
<text transform="matrix(0.853 0 0 1 33.3 0)">0</text>
<text transform="matrix(0.853 0 0 1 47.1 0)">0</text>
</g>
</g>
<path class="d" d="M542.3 1044.4L702.2 1044.4"/>
<path class="d" d="M661.3 1038L661.3 1163.7"/>
<polygon class="ah" points="661.3,1044.4 651.3,1046.2 651.3,1042.6"/>
<polygon class="ah" points="677.5,1044.4 687.5,1042.6 687.5,1046.2"/>
<g transform="translate(548 1039.3)">
<g style="font-family:'Liberation Serif';font-size:44px;fill:#1c1c1c;stroke:#fff;stroke-width:0.5;text-anchor:middle">
<text transform="matrix(0.877 0 0 1 9.1 0)">0</text>
<text transform="matrix(1.02 0 0 1 26.2 0)">.</text>
<text transform="matrix(0.877 0 0 1 52 0)">8</text>
<text transform="matrix(0.877 0 0 1 73.4 0)">0</text>
</g>
</g>
<path class="d" d="M555.6 1082.6L702.2 1082.6"/>
<path class="d" d="M702.2 1076.6L702.2 1124"/>
<polygon class="ah" points="661.3,1082.6 671.3,1080.8 671.3,1084.4"/>
<polygon class="ah" points="702.2,1082.6 692.2,1084.4 692.2,1080.8"/>
<g transform="translate(561 1076.8)">
<g style="font-family:'Liberation Serif';font-size:40.6px;fill:#1c1c1c;stroke:#fff;stroke-width:0.6;text-anchor:middle">
<text transform="matrix(0.941 0 0 1 9 0)">2</text>
<text transform="matrix(1.02 0 0 1 26 0)">.</text>
<text transform="matrix(0.941 0 0 1 51.5 0)">0</text>
<text transform="matrix(0.941 0 0 1 72.7 0)">0</text>
</g>
</g>
<path class="d" d="M780.8 1043.5L679.8 1163.4"/>
<polygon class="ah" points="711.9,1126.5 716.9,1117.7 719.7,1120"/>
<polygon class="ah" points="693.6,1148.3 688.6,1157.1 685.8,1154.8"/>
<g transform="translate(722.2 1101.7) rotate(-50)">
<circle class="d" cx="7" cy="-10.9" r="6.7"/>
<path class="d" d="M-0.4 -4.7L14.4 -17.1"/>
<g transform="translate(16 0)">
<text style="font-family:'Liberation Sans';font-size:30.5px;fill:#1c1c1c;stroke:#fff;stroke-width:0.3" textLength="56.7" lengthAdjust="spacingAndGlyphs">0.90</text>
</g></g>
<path class="d" d="M857.9 1065.1L667.2 1153.9"/>
<polygon class="ah" points="716.4,1130.5 724.7,1124.6 726.2,1127.9"/>
<polygon class="ah" points="688,1145.2 679.7,1151.1 678.2,1147.8"/>
<g transform="translate(780.1 1094.8) rotate(-25)">
<circle class="d" cx="7" cy="-10.9" r="6.7"/>
<path class="d" d="M2.9 -2.2L11.1 -19.7"/>
<g transform="translate(16 0)">
<text style="font-family:'Liberation Sans';font-size:30.5px;fill:#1c1c1c;stroke:#fff;stroke-width:0.3" textLength="62.3" lengthAdjust="spacingAndGlyphs">1.40</text>
</g></g>
<path class="d" d="M553 985L946 634.1"/>
<polygon class="ah" points="783.6,777.3 776,786.8 773.3,783.8"/>
<polygon class="ah" points="571.4,966.7 579,957.2 581.7,960.2"/>
<g transform="translate(841.6 717.7) rotate(-41.8)">
<circle class="d" cx="9.4" cy="-14.8" r="9.1"/>
<path class="d" d="M0.7 -5L18.2 -24.6"/>
<g transform="translate(21.1 0)">
<g style="font-family:'Liberation Serif';font-size:43.5px;fill:#1c1c1c;stroke:#fff;stroke-width:0.4;text-anchor:middle">
<text transform="matrix(0.872 0 0 1 9 0)">1</text>
<text transform="matrix(0.872 0 0 1 30 0)">4</text>
<text transform="matrix(1.02 0 0 1 46.9 0)">.</text>
<text transform="matrix(0.872 0 0 1 72.2 0)">0</text>
<text transform="matrix(0.872 0 0 1 93.3 0)">0</text>
</g>
</g></g>
<path class="d" d="M1205.1 391.2L984.9 553.9"/>
<polygon class="ah" points="1042.1,512.1 1049.8,504 1052.1,507.2"/>
<polygon class="ah" points="1003.3,541.5 995.6,549.6 993.3,546.4"/>
<g transform="translate(1073.5 480.4) rotate(-36.5)">
<circle class="d" cx="10.2" cy="-16.1" r="9.9"/>
<path class="d" d="M1.7 -4.7L18.7 -27.6"/>
<g transform="translate(23.6 0)">
<text style="font-family:'Liberation Sans';font-size:45.1px;fill:#1c1c1c;stroke:#fff;stroke-width:0.5" textLength="123" lengthAdjust="spacingAndGlyphs">2.20*4</text>
</g></g>
<circle class="o" cx="193.6" cy="268.3" r="27" style="stroke-width:1.1"/>
<path class="o" d="M175 259.4Q180.2 252.1 185.3 259.4" style="stroke-width:1.1"/>
<path class="o" d="M201.3 260.6Q206.5 253.3 211.6 260.6" style="stroke-width:1.1"/>
<path class="o" d="M188.4 270.4Q193.6 265.3 198.9 270.4" style="stroke-width:1.1"/>
<path class="o" d="M176.5 275.7Q193.6 298.3 210.8 275.7" style="stroke-width:1.1"/>
<path class="o" d="M193.6 295.3L193.6 344.8" style="stroke-width:1.1"/>
<path class="o" d="M152.6 300.8L172.2 315.5L193.6 320.4L210.8 324L219.3 332" style="stroke-width:1.1"/>
<path class="o" d="M171.6 376.3L193.6 344.8L215.1 377.5" style="stroke-width:1.1"/>
<path class="o" d="M140.4 376.3L171.6 376.3" style="stroke-width:1.1"/>
<path class="o" d="M215.1 377.5L242.6 377.5" style="stroke-width:1.1"/>
<circle class="o" cx="223.6" cy="337.5" r="7" style="stroke-width:1.1"/>
<path class="o" d="M221.2 339.3L223.6 344.8L225.5 340.6" style="stroke-width:1.1"/>
<circle class="o" cx="142.8" cy="293.4" r="7.2" style="stroke-width:1.1"/>
<path class="o" d="M148.3 290.4L158.8 286.7L164.3 287.9L161.2 293.4L152.6 300.8L142.8 303.2" style="stroke-width:1.1"/>
<path class="o" d="M136.7 292.2L149 288.5" style="stroke-width:1.1"/>
<path class="o" d="M137.3 295.9L148.3 293.4" style="stroke-width:1.1"/>
<path class="o" d="M139.2 299.6L145.3 297.1" style="stroke-width:1.1"/>
<path class="dh" d="M141 376.3L150.2 366.9L157.5 368.7L161.8 376.3Z" style="stroke-width:1.1"/>
<path class="dh" d="M223.6 377.5L232.2 369.3L238.3 371.2L240.8 377.5Z" style="stroke-width:1.1"/>
<g transform="translate(133.7 398.5)">
<text style="font-family:'Liberation Serif';font-size:19.1px;fill:#6a1515;stroke:#fff;stroke-width:0.3" textLength="119.9" lengthAdjust="spacingAndGlyphs">Capture Direction</text>
</g>
<rect class="o" x="1813.7" y="486.5" width="31.5" height="770.8"/>
<rect class="o" x="1569.6" y="739.6" width="244.1" height="264.6"/>
<path class="o" d="M1740.8 739.6L1740.8 1004.2"/>
<rect class="o" x="1783.4" y="784.7" width="30.3" height="173.5"/>
<g transform="translate(1804 902) rotate(-90)">
<text style="font-family:'Liberation Serif';font-size:23.9px;fill:#1c1c1c;stroke:#fff;stroke-width:0.3" textLength="59" lengthAdjust="spacingAndGlyphs">sensor</text>
</g>
<rect class="o" x="1519.6" y="749.8" width="50" height="243.5"/>
<path class="d" d="M1524.2 749.8L1524.2 993.3" style="stroke-width:0.8"/>
<path class="d" d="M1528.9 749.8L1528.9 993.3" style="stroke-width:0.8"/>
<path class="d" d="M1533.7 749.8L1533.7 993.3" style="stroke-width:0.8"/>
<path class="d" d="M1538.4 749.8L1538.4 993.3" style="stroke-width:0.8"/>
<path class="d" d="M1543.2 749.8L1543.2 993.3" style="stroke-width:0.8"/>
<path class="d" d="M1547.9 749.8L1547.9 993.3" style="stroke-width:0.8"/>
<path class="d" d="M1552.7 749.8L1552.7 993.3" style="stroke-width:0.8"/>
<path class="d" d="M1557.4 749.8L1557.4 993.3" style="stroke-width:0.8"/>
<path class="d" d="M1562.2 749.8L1562.2 993.3" style="stroke-width:0.8"/>
<path class="d" d="M1566.9 749.8L1566.9 993.3" style="stroke-width:0.8"/>
<path class="o" d="M1521.5 786.9L1521.5 958.5" style="stroke-width:1.6"/>
<path class="o" d="M1526.2 797.8L1526.2 964.9" style="stroke-width:1.6"/>
<path class="o" d="M1531 803.2L1531 959.8" style="stroke-width:1.6"/>
<path class="o" d="M1535.8 789.3L1535.8 965.1" style="stroke-width:1.6"/>
<path class="o" d="M1540.5 781.8L1540.5 951.6" style="stroke-width:1.6"/>
<path class="o" d="M1545.2 784.2L1545.2 950.6" style="stroke-width:1.6"/>
<path class="o" d="M1550 784.8L1550 952.2" style="stroke-width:1.6"/>
<path class="o" d="M1554.8 791.9L1554.8 953.9" style="stroke-width:1.6"/>
<path class="o" d="M1559.5 801.1L1559.5 968.1" style="stroke-width:1.6"/>
<path class="o" d="M1564.2 801.9L1564.2 967.9" style="stroke-width:1.6"/>
<path class="o" d="M1485.8 760.2L1519.6 760.2"/>
<path class="o" d="M1485.8 983.5L1519.6 983.5"/>
<path class="o" d="M1408.5 701.2L1485.8 701.2L1485.8 1046.2L1408.5 1046.2L1406 1043.5L1406 704Z"/>
<path class="o" d="M1408.5 701.2L1408.5 1046.2" style="stroke-width:0.9"/>
<path class="o" d="M1446.5 701.2L1446.5 1046.2"/>
<path class="o" d="M1406 736.6A265 265 0 0 0 1406 1010"/>
<path class="d" d="M1387.8 770.2A110 110 0 0 0 1387.8 974.2"/>
<polygon class="ah" points="1387.8,770.2 1380,775 1378.7,771.6"/>
<polygon class="ah" points="1387.8,974.2 1378.7,972.8 1380,969.4"/>
<path class="d" d="M1379.9 750.7L1429 872.2L1379.9 993.7" stroke-dasharray="5 2 1 2" style="stroke-width:0.8"/>
<g transform="translate(1314.5 909) rotate(-90)">
<g style="font-family:'Liberation Serif';font-size:48.1px;fill:#1c1c1c;text-anchor:middle">
<text transform="matrix(0.78 0 0 1 8.9 0)">1</text>
<text transform="matrix(0.78 0 0 1 29.7 0)">3</text>
<text transform="matrix(0.78 0 0 1 50.5 0)">6</text>
<text transform="matrix(1 0 0 1 69.7 0)">°</text>
</g>
</g>
<path class="c" d="M1342.7 872.2L1941 872.2"/>
<path class="r" d="M1813.7 985.4L1785.2 985.4L1785.2 1087.8L1813.7 1087.8" stroke-dasharray="13 6"/>
<path class="o" d="M1813.7 1091.7L1785.4 1091.7L1785.4 1172.6L1813.7 1172.6"/>
<path class="o" d="M1845.2 1095.6L1971.5 1095.6L1971.5 1124.9L1934.3 1124.9L1934.3 1135.2L1971.5 1135.2L1971.5 1191.6L1845.2 1191.6"/>
<path class="wl" d="M1813.7 1140L1813.7 1146"/>
<path class="wl" d="M1813.7 1160L1813.7 1166"/>
<path class="wl" d="M1813.7 1178L1813.7 1186"/>
<path class="wl" d="M1845.2 1140L1845.2 1146"/>
<path class="wl" d="M1845.2 1160L1845.2 1166"/>
<path class="wl" d="M1845.2 1178L1845.2 1186"/>
<path class="d" d="M1368.4 380.8L1368.4 863"/>
<path class="d" d="M1845.2 380.8L1845.2 486.5"/>
<path class="d" d="M1368.4 387.5L1845.2 387.5"/>
<polygon class="ah" points="1368.4,387.5 1380.4,385.5 1380.4,389.5"/>
<polygon class="ah" points="1845.2,387.5 1833.2,389.5 1833.2,385.5"/>
<g transform="translate(1502.4 380.8)">
<g style="font-family:'Liberation Serif';font-size:44.3px;fill:#1c1c1c;stroke:#fff;stroke-width:0.5;text-anchor:middle">
<text transform="matrix(0.868 0 0 1 9.1 0)">2</text>
<text transform="matrix(0.868 0 0 1 30.4 0)">3</text>
<text transform="matrix(1.02 0 0 1 47.5 0)">.</text>
<text transform="matrix(0.868 0 0 1 73.1 0)">5</text>
<text transform="matrix(0.868 0 0 1 94.5 0)">0</text>
<path d="M110.5 -16.5H142.5M126.5 -31.3V-5.2M110.5 0H142.5" style="fill:none;stroke:#1c1c1c;stroke-width:1.6"/>
<text transform="matrix(0.868 0 0 1 158.5 0)">0</text>
<text transform="matrix(1.02 0 0 1 175.6 0)">.</text>
<text transform="matrix(0.868 0 0 1 201.2 0)">5</text>
</g>
</g>
<path class="d" d="M1240.4 701.9L1390.5 701.9"/>
<path class="d" d="M1240.4 1046.5L1404 1046.5"/>
<path class="d" d="M1245.8 701.9L1245.8 1046.5"/>
<polygon class="ah" points="1245.8,701.9 1247.8,713.9 1243.8,713.9"/>
<polygon class="ah" points="1245.8,1046.5 1243.8,1034.5 1247.8,1034.5"/>
<g transform="translate(1243 923) rotate(-90)">
<g style="font-family:'Liberation Serif';font-size:46.6px;fill:#1c1c1c;stroke:#fff;stroke-width:0.3;text-anchor:middle">
<text transform="matrix(0.805 0 0 1 8.9 0)">1</text>
<text transform="matrix(0.805 0 0 1 29.7 0)">7</text>
<text transform="matrix(1.02 0 0 1 46.3 0)">.</text>
<text transform="matrix(0.805 0 0 1 71.3 0)">0</text>
<text transform="matrix(0.805 0 0 1 92.1 0)">0</text>
</g>
</g>
<path class="d" d="M1569.6 617.7L1569.6 734"/>
<path class="d" d="M1569.6 624.4L1813.7 624.4"/>
<polygon class="ah" points="1569.6,624.4 1581.6,622.4 1581.6,626.4"/>
<polygon class="ah" points="1813.7,624.4 1801.7,626.4 1801.7,622.4"/>
<g transform="translate(1641 619.7)">
<g style="font-family:'Liberation Serif';font-size:45.3px;fill:#1c1c1c;stroke:#fff;stroke-width:0.4;text-anchor:middle">
<text transform="matrix(0.837 0 0 1 9 0)">1</text>
<text transform="matrix(0.837 0 0 1 30 0)">2</text>
<text transform="matrix(1.02 0 0 1 46.9 0)">.</text>
<text transform="matrix(0.837 0 0 1 72.2 0)">0</text>
<text transform="matrix(0.837 0 0 1 93.2 0)">0</text>
</g>
</g>
<path class="d" d="M1740.8 693.8L1740.8 739.6"/>
<path class="d" d="M1634.2 700.5L1813.7 700.5"/>
<polygon class="ah" points="1740.8,700.5 1752.8,698.5 1752.8,702.5"/>
<polygon class="ah" points="1813.7,700.5 1801.7,702.5 1801.7,698.5"/>
<g transform="translate(1641 695.3)">
<g style="font-family:'Liberation Serif';font-size:44.7px;fill:#1c1c1c;stroke:#fff;stroke-width:0.5;text-anchor:middle">
<text transform="matrix(0.864 0 0 1 9.1 0)">3</text>
<text transform="matrix(1.02 0 0 1 26.3 0)">.</text>
<text transform="matrix(0.864 0 0 1 52.1 0)">6</text>
<text transform="matrix(0.864 0 0 1 73.6 0)">0</text>
</g>
</g>
<path class="d" d="M1785.4 1172.6L1785.4 1212.5"/>
<path class="d" d="M1813.7 1180L1813.7 1212.5"/>
<path class="d" d="M1670.3 1205.3L1741.5 1205.3"/>
<path class="d" d="M1765.2 1205.3L1786 1205.3"/>
<path class="d" d="M1786 1205.3L1835 1205.3" stroke-dasharray="20 8 6 6"/>
<polygon class="ah" points="1785.4,1205.3 1776.4,1207 1776.4,1203.6"/>
<polygon class="ah" points="1813.7,1205.3 1822.7,1203.6 1822.7,1207"/>
<g transform="translate(1675 1199.8)">
<g style="font-family:'Liberation Serif';font-size:45px;fill:#1c1c1c;stroke:#fff;stroke-width:0.4;text-anchor:middle">
<text transform="matrix(0.838 0 0 1 8.9 0)">1</text>
<text transform="matrix(1.02 0 0 1 25.7 0)">.</text>
<text transform="matrix(0.838 0 0 1 50.8 0)">4</text>
<text transform="matrix(0.838 0 0 1 71.8 0)">0</text>
</g>
</g>
<path class="wl" d="M1716 1184L1733 1178" style="stroke-width:4"/>
<path class="wl" d="M1722 1194L1745 1190" style="stroke-width:4"/>
<path class="wl" d="M1737 1176L1744 1196" style="stroke-width:4"/>
<g transform="translate(1693 1242)">
<g style="font-family:'Liberation Serif';font-size:37.3px;fill:#b00000;stroke:#fff;stroke-width:0.1;text-anchor:middle">
<text transform="matrix(0.55 0 0 1 8 0)">M</text>
<text transform="matrix(0.981 0 0 1 26.9 0)">I</text>
<text transform="matrix(0.682 0 0 1 45.7 0)">C</text>
</g>
</g>
<path class="d" d="M1971.5 1198.4L1971.5 1255"/>
<path class="d" d="M1845.2 1248.2L1971.5 1248.2"/>
<polygon class="ah" points="1845.2,1248.2 1857.2,1246.2 1857.2,1250.2"/>
<polygon class="ah" points="1971.5,1248.2 1959.5,1250.2 1959.5,1246.2"/>
<g transform="translate(1864 1242.3)">
<g style="font-family:'Liberation Serif';font-size:45px;fill:#1c1c1c;stroke:#fff;stroke-width:0.5;text-anchor:middle">
<text transform="matrix(0.864 0 0 1 9.2 0)">6</text>
<text transform="matrix(1.02 0 0 1 26.5 0)">.</text>
<text transform="matrix(0.864 0 0 1 52.4 0)">2</text>
<text transform="matrix(0.864 0 0 1 74 0)">0</text>
</g>
</g>
<path class="d" d="M1813.7 1264.4L1813.7 1331.3"/>
<path class="d" d="M1845.2 1264.4L1845.2 1331.3"/>
<path class="d" d="M1789.1 1325.5L2006.8 1325.5"/>
<polygon class="ah" points="1813.7,1325.5 1801.7,1327.5 1801.7,1323.5"/>
<polygon class="ah" points="1845.2,1325.5 1857.2,1323.5 1857.2,1327.5"/>
<g transform="translate(1875.2 1320.3)">
<g style="font-family:'Liberation Serif';font-size:45.5px;fill:#1c1c1c;stroke:#fff;stroke-width:0.1;text-anchor:middle">
<text transform="matrix(0.847 0 0 1 9.1 0)">1</text>
<text transform="matrix(0.989 0 0 1 26.2 0)">.</text>
<text transform="matrix(0.847 0 0 1 51.9 0)">6</text>
<text transform="matrix(0.762 0 0 1 73.4 0)">P</text>
<text transform="matrix(0.635 0 0 1 94.8 0)">C</text>
<text transform="matrix(0.635 0 0 1 116.2 0)">B</text>
</g>
</g>
<g transform="translate(2644.4 872)">
<path class="gl" d="M-386 -386V-345.2M-379 -386V-345.2M-372 -386V-345.2M-365 -386V-345.2M-358 -386V-345.2M-351 -386V-345.2M-344 -386V-345.2M-337 -386V-345.2M-330 -386V-345.2M-323 -386V-345.2M-316 -386V-345.2M-309 -386V-345.2M-302 -386V-345.2M-295 -386V-345.2M-288 -386V-345.2M-281 -386V-345.2M-274 -386V-345.2M-267 -386V-345.2M-260 -386V-345.2M-253 -386V-345.2M-246 -386V-345.2M-239 -386V-345.2M-232 -386V-345.2M-225 -386V-345.2M-218 -386V-345.2M-211 -386V-345.2M-204 -386V-345.2M-197 -386V-345.2M-190 -386V-345.2M-183 -386V-345.2M-386 -385.5H-182.5M-386 -378.5H-182.5M-386 -371.5H-182.5M-386 -364.5H-182.5M-386 -357.5H-182.5M-386 -350.5H-182.5"/>
<path class="gl" d="M-386 -345.2V-182.5M-379 -345.2V-182.5M-372 -345.2V-182.5M-365 -345.2V-182.5M-358 -345.2V-182.5M-351 -345.2V-182.5M-386 -343.5H-345.2M-386 -336.5H-345.2M-386 -329.5H-345.2M-386 -322.5H-345.2M-386 -315.5H-345.2M-386 -308.5H-345.2M-386 -301.5H-345.2M-386 -294.5H-345.2M-386 -287.5H-345.2M-386 -280.5H-345.2M-386 -273.5H-345.2M-386 -266.5H-345.2M-386 -259.5H-345.2M-386 -252.5H-345.2M-386 -245.5H-345.2M-386 -238.5H-345.2M-386 -231.5H-345.2M-386 -224.5H-345.2M-386 -217.5H-345.2M-386 -210.5H-345.2M-386 -203.5H-345.2M-386 -196.5H-345.2M-386 -189.5H-345.2M-386 -182.5H-345.2"/>
<path class="o" d="M-386 -386L-182.5 -386L-182.5 -345.2L-345.2 -345.2L-345.2 -182.5L-386 -182.5Z"/>
<path class="gl" d="M-386 345.2V386M-379 345.2V386M-372 345.2V386M-365 345.2V386M-358 345.2V386M-351 345.2V386M-344 345.2V386M-337 345.2V386M-330 345.2V386M-323 345.2V386M-316 345.2V386M-309 345.2V386M-302 345.2V386M-295 345.2V386M-288 345.2V386M-281 345.2V386M-274 345.2V386M-267 345.2V386M-260 345.2V386M-253 345.2V386M-246 345.2V386M-239 345.2V386M-232 345.2V386M-225 345.2V386M-218 345.2V386M-211 345.2V386M-204 345.2V386M-197 345.2V386M-190 345.2V386M-183 345.2V386M-386 349.5H-182.5M-386 356.5H-182.5M-386 363.5H-182.5M-386 370.5H-182.5M-386 377.5H-182.5M-386 384.5H-182.5"/>
<path class="gl" d="M-386 182.5V345.2M-379 182.5V345.2M-372 182.5V345.2M-365 182.5V345.2M-358 182.5V345.2M-351 182.5V345.2M-386 188.5H-345.2M-386 195.5H-345.2M-386 202.5H-345.2M-386 209.5H-345.2M-386 216.5H-345.2M-386 223.5H-345.2M-386 230.5H-345.2M-386 237.5H-345.2M-386 244.5H-345.2M-386 251.5H-345.2M-386 258.5H-345.2M-386 265.5H-345.2M-386 272.5H-345.2M-386 279.5H-345.2M-386 286.5H-345.2M-386 293.5H-345.2M-386 300.5H-345.2M-386 307.5H-345.2M-386 314.5H-345.2M-386 321.5H-345.2M-386 328.5H-345.2M-386 335.5H-345.2M-386 342.5H-345.2"/>
<path class="o" d="M-386 386L-182.5 386L-182.5 345.2L-345.2 345.2L-345.2 182.5L-386 182.5Z"/>
<path class="gl" d="M188 -386V-345.2M195 -386V-345.2M202 -386V-345.2M209 -386V-345.2M216 -386V-345.2M223 -386V-345.2M230 -386V-345.2M237 -386V-345.2M244 -386V-345.2M251 -386V-345.2M258 -386V-345.2M265 -386V-345.2M272 -386V-345.2M279 -386V-345.2M286 -386V-345.2M293 -386V-345.2M300 -386V-345.2M307 -386V-345.2M314 -386V-345.2M321 -386V-345.2M328 -386V-345.2M335 -386V-345.2M342 -386V-345.2M349 -386V-345.2M356 -386V-345.2M363 -386V-345.2M370 -386V-345.2M377 -386V-345.2M384 -386V-345.2M182.5 -385.5H386M182.5 -378.5H386M182.5 -371.5H386M182.5 -364.5H386M182.5 -357.5H386M182.5 -350.5H386"/>
<path class="gl" d="M349 -345.2V-182.5M356 -345.2V-182.5M363 -345.2V-182.5M370 -345.2V-182.5M377 -345.2V-182.5M384 -345.2V-182.5M345.2 -343.5H386M345.2 -336.5H386M345.2 -329.5H386M345.2 -322.5H386M345.2 -315.5H386M345.2 -308.5H386M345.2 -301.5H386M345.2 -294.5H386M345.2 -287.5H386M345.2 -280.5H386M345.2 -273.5H386M345.2 -266.5H386M345.2 -259.5H386M345.2 -252.5H386M345.2 -245.5H386M345.2 -238.5H386M345.2 -231.5H386M345.2 -224.5H386M345.2 -217.5H386M345.2 -210.5H386M345.2 -203.5H386M345.2 -196.5H386M345.2 -189.5H386M345.2 -182.5H386"/>
<path class="o" d="M386 -386L182.5 -386L182.5 -345.2L345.2 -345.2L345.2 -182.5L386 -182.5Z"/>
<path class="gl" d="M188 345.2V386M195 345.2V386M202 345.2V386M209 345.2V386M216 345.2V386M223 345.2V386M230 345.2V386M237 345.2V386M244 345.2V386M251 345.2V386M258 345.2V386M265 345.2V386M272 345.2V386M279 345.2V386M286 345.2V386M293 345.2V386M300 345.2V386M307 345.2V386M314 345.2V386M321 345.2V386M328 345.2V386M335 345.2V386M342 345.2V386M349 345.2V386M356 345.2V386M363 345.2V386M370 345.2V386M377 345.2V386M384 345.2V386M182.5 349.5H386M182.5 356.5H386M182.5 363.5H386M182.5 370.5H386M182.5 377.5H386M182.5 384.5H386"/>
<path class="gl" d="M349 182.5V345.2M356 182.5V345.2M363 182.5V345.2M370 182.5V345.2M377 182.5V345.2M384 182.5V345.2M345.2 188.5H386M345.2 195.5H386M345.2 202.5H386M345.2 209.5H386M345.2 216.5H386M345.2 223.5H386M345.2 230.5H386M345.2 237.5H386M345.2 244.5H386M345.2 251.5H386M345.2 258.5H386M345.2 265.5H386M345.2 272.5H386M345.2 279.5H386M345.2 286.5H386M345.2 293.5H386M345.2 300.5H386M345.2 307.5H386M345.2 314.5H386M345.2 321.5H386M345.2 328.5H386M345.2 335.5H386M345.2 342.5H386"/>
<path class="o" d="M386 386L182.5 386L182.5 345.2L345.2 345.2L345.2 182.5L386 182.5Z"/>
<rect class="o" x="-386" y="-385.5" width="772" height="772"/>
<path class="ow" d="M323.9 345.2A21.3 21.3 0 1 0 345.2 323.9L345.2 149.2A10.2 10.2 0 0 0 324.8 149.2L324.8 324.8L149.2 324.8A10.2 10.2 0 0 0 149.2 345.2Z"/>
<path class="ow" d="M323.9 -345.2A21.3 21.3 0 1 1 345.2 -323.9L345.2 -149.2A10.2 10.2 0 0 1 324.8 -149.2L324.8 -324.8L149.2 -324.8A10.2 10.2 0 0 1 149.2 -345.2Z"/>
<path class="ow" d="M-323.9 345.2A21.3 21.3 0 1 1 -345.2 323.9L-345.2 149.2A10.2 10.2 0 0 1 -324.8 149.2L-324.8 324.8L-149.2 324.8A10.2 10.2 0 0 1 -149.2 345.2Z"/>
<path class="ow" d="M-323.9 -345.2A21.3 21.3 0 1 0 -345.2 -323.9L-345.2 -149.2A10.2 10.2 0 0 0 -324.8 -149.2L-324.8 -324.8L-149.2 -324.8A10.2 10.2 0 0 0 -149.2 -345.2Z"/>
<rect class="ow" x="-105.6" y="-345.2" width="211.2" height="20.4" rx="10.2"/>
<rect class="ow" x="-345.2" y="-105.6" width="20.4" height="211.2" rx="10.2"/>
<rect class="ow" x="-105.6" y="324.8" width="211.2" height="20.4" rx="10.2"/>
<rect class="ow" x="324.8" y="-105.6" width="20.4" height="211.2" rx="10.2"/>
<circle class="dh" cx="-284" cy="-284" r="40"/>
<circle class="ow" cx="-284" cy="-284" r="22.3"/>
<circle class="dh" cx="-284" cy="284" r="40"/>
<circle class="ow" cx="-284" cy="284" r="22.3"/>
<circle class="dh" cx="284" cy="-284" r="40"/>
<circle class="ow" cx="284" cy="-284" r="22.3"/>
<circle class="dh" cx="284" cy="284" r="40"/>
<circle class="ow" cx="284" cy="284" r="22.3"/>
</g>
<circle class="ring" cx="2344.4" cy="704.2" r="11.1" style="stroke-width:5"/>
<rect class="blk" x="2331.1" y="742.5" width="26.6" height="26.6"/>
<circle class="wh" cx="2344.4" cy="755.8" r="8.3"/>
<circle class="ring" cx="2344.4" cy="846.2" r="11.1" style="stroke-width:5"/>
<rect class="blk" x="2331.1" y="884.5" width="26.6" height="26.6"/>
<circle class="wh" cx="2344.4" cy="897.8" r="8.3"/>
<circle class="ring" cx="2344.4" cy="988.2" r="11.1" style="stroke-width:5"/>
<rect class="blk" x="2331.1" y="1026.5" width="26.6" height="26.6"/>
<circle class="wh" cx="2344.4" cy="1039.8" r="8.3"/>
<circle class="ring" cx="2944.4" cy="704.2" r="11.1" style="stroke-width:5"/>
<rect class="blk" x="2931.1" y="742.5" width="26.6" height="26.6"/>
<circle class="wh" cx="2944.4" cy="755.8" r="8.3"/>
<circle class="ring" cx="2944.4" cy="846.2" r="11.1" style="stroke-width:5"/>
<rect class="blk" x="2931.1" y="884.5" width="26.6" height="26.6"/>
<circle class="wh" cx="2944.4" cy="897.8" r="8.3"/>
<circle class="ring" cx="2944.4" cy="988.2" r="11.1" style="stroke-width:5"/>
<rect class="blk" x="2931.1" y="1026.5" width="26.6" height="26.6"/>
<circle class="wh" cx="2944.4" cy="1039.8" r="8.3"/>
<path class="c" d="M2644.4 486.5L2644.4 1257.5" style="stroke-dashoffset:0.5"/>
<path class="c" d="M2258.4 872L3030.4 872" style="stroke-dashoffset:0"/>
<circle class="o" cx="2461.7" cy="872" r="18.2" style="stroke-width:1"/>
<circle class="o" cx="2827.1" cy="872" r="18.2" style="stroke-width:1"/>
<path class="r" d="M2461.7 848L2461.7 896" stroke-dasharray="9 3 3 3" style="stroke-width:0.9"/>
<path class="r" d="M2827.1 848L2827.1 896" stroke-dasharray="9 3 3 3" style="stroke-width:0.9"/>
<circle class="ring" cx="2618.6" cy="577.4" r="11.1" style="stroke-width:5"/>
<circle class="ring" cx="2669.8" cy="577.4" r="11.1" style="stroke-width:5"/>
<path class="r" d="M2609 577.4L2628 577.4"/>
<path class="r" d="M2636 577.4L2653 577.4"/>
<path class="r" d="M2660 577.4L2679 577.4"/>
<path class="r" d="M2588 563.2L2600 563.2"/>
<path class="r" d="M2594 557.2L2594 569.2"/>
<path class="o" d="M2458.7 552.5L2549.5 552.5" style="stroke-width:1.1"/>
<path class="o" d="M2432.2 551.4L2458.7 551.4L2458.7 604.1L2454 604.1L2454 601.7L2432.2 601.7Z" style="stroke-width:1.1"/>
<path class="o" d="M2432.2 556.8L2455.9 556.8L2455.9 552.5" style="stroke-width:1.1"/>
<path class="o" d="M2432.2 561.6L2452.4 561.6L2452.4 556.8" style="stroke-width:1.1"/>
<path class="o" d="M2432.2 593.3L2454 593.3L2454 601.7" style="stroke-width:1.1"/>
<path class="o" d="M2579.8 551.4L2549.5 551.4L2549.5 601.7L2553.2 601.7L2553.2 604.1L2558.7 604.1L2558.7 601.7L2579.8 601.7Z" style="stroke-width:1.1"/>
<path class="o" d="M2579.8 556.8L2557.1 556.8L2554 552.5" style="stroke-width:1.1"/>
<path class="o" d="M2579.8 561.6L2558.7 561.6L2558.7 556.8" style="stroke-width:1.1"/>
<path class="o" d="M2553.2 552.5L2553.2 601.7" style="stroke-width:1.1"/>
<path class="o" d="M2579.8 593.3L2558.7 593.3L2558.7 601.7" style="stroke-width:1.1"/>
<path class="o" d="M2440.5 601.7L2440.5 634.3L2571.7 634.3L2571.7 601.7" style="stroke-width:1.1"/>
<rect class="blk" x="2484.9" y="562.8" width="16.8" height="29.4" rx="8.4"/>
<circle class="wh" cx="2493.3" cy="577.5" r="4.3"/>
<rect class="blk" x="2510.3" y="562.8" width="16.8" height="29.4" rx="8.4"/>
<circle class="wh" cx="2518.7" cy="577.5" r="4.3"/>
<path class="r" d="M2473.8 595.7L2483.4 595.7"/>
<path class="r" d="M2531.6 595.4L2542 595.4"/>
<path class="r" d="M2536.8 590.2L2536.8 600.6"/>
<path class="r" d="M2486.5 634.3L2486.5 597.5L2500.8 597.5L2500.8 634.3" stroke-dasharray="2.5 1.8" style="stroke-width:0.9"/>
<path class="r" d="M2511.4 634.3L2511.4 597.5L2525.9 597.5L2525.9 634.3" stroke-dasharray="2.5 1.8" style="stroke-width:0.9"/>
<g transform="translate(2443.7 626)">
<text style="font-family:'Liberation Sans';font-size:16.9px;fill:#1c1c1c;stroke:#fff;stroke-width:0.2" textLength="32.5" lengthAdjust="spacingAndGlyphs">5VIO</text>
</g>
<path class="st" fill-rule="evenodd" d="M2543.2 1089.6L2612.9 1089.6L2612.9 1105.5L2675.5 1105.5L2675.5 1089.6L2744.8 1089.6L2744.8 1185.6L2543.2 1185.6Z M2553.4 1099.7L2602.3 1099.7L2602.3 1115.6L2685.7 1115.6L2685.7 1099.7L2734.6 1099.7L2734.6 1175.5L2553.4 1175.5Z"/>
<circle class="st" cx="2583.2" cy="1137.2" r="9.2"/>
<circle class="st" cx="2623.5" cy="1137.2" r="9.2"/>
<circle class="st" cx="2664.4" cy="1137.2" r="9.2"/>
<circle class="st" cx="2704.6" cy="1137.2" r="9.2"/>
<path class="r" d="M2529 1137.2L2542 1137.2"/>
<path class="r" d="M2553 1137.2L2570 1137.2"/>
<path class="r" d="M2576 1137.2L2596 1137.2"/>
<path class="r" d="M2608 1137.2L2617 1137.2"/>
<path class="r" d="M2630 1137.2L2651 1137.2"/>
<path class="r" d="M2657 1137.2L2679 1137.2"/>
<path class="r" d="M2690 1137.2L2700 1137.2"/>
<path class="r" d="M2717 1137.2L2734 1137.2"/>
<path class="r" d="M2746 1137.2L2757.5 1137.2"/>
<path class="d" d="M2762 1137.2L2881 1137.2"/>
<path class="d" d="M2258.4 389.5L2258.4 486.5"/>
<path class="d" d="M3030.4 389.5L3030.4 486.5"/>
<path class="d" d="M2258.4 397.6L3030.4 397.6"/>
<polygon class="ah" points="2258.4,397.6 2270.4,395.6 2270.4,399.6"/>
<polygon class="ah" points="3030.4,397.6 3018.4,399.6 3018.4,395.6"/>
<g transform="translate(2587 391.4)">
<g style="font-family:'Liberation Serif';font-size:44.6px;fill:#1c1c1c;stroke:#fff;stroke-width:0.5;text-anchor:middle">
<text transform="matrix(0.87 0 0 1 9.2 0)">3</text>
<text transform="matrix(0.87 0 0 1 30.7 0)">8</text>
<text transform="matrix(1.02 0 0 1 47.9 0)">.</text>
<text transform="matrix(0.87 0 0 1 73.8 0)">0</text>
<text transform="matrix(0.87 0 0 1 95.3 0)">0</text>
</g>
</g>
<path class="d" d="M3035.8 486.5L3124.7 486.5"/>
<path class="d" d="M3035.8 1257L3124.7 1257"/>
<path class="d" d="M3118.7 486.5L3118.7 1257"/>
<polygon class="ah" points="3118.7,486.5 3120.7,498.5 3116.7,498.5"/>
<polygon class="ah" points="3118.7,1257 3116.7,1245 3120.7,1245"/>
<g transform="translate(3114.6 925) rotate(-90)">
<g style="font-family:'Liberation Serif';font-size:46.7px;fill:#1c1c1c;stroke:#fff;stroke-width:0.4;text-anchor:middle">
<text transform="matrix(0.818 0 0 1 9 0)">3</text>
<text transform="matrix(0.818 0 0 1 30.3 0)">8</text>
<text transform="matrix(1.02 0 0 1 47.3 0)">.</text>
<text transform="matrix(0.818 0 0 1 72.7 0)">0</text>
<text transform="matrix(0.818 0 0 1 94 0)">0</text>
</g>
</g>
<path class="d" d="M2182.1 547.6L2295.2 547.6"/>
<path class="d" d="M2182.1 1196.8L2295.2 1196.8"/>
<path class="d" d="M2188.9 547.6L2188.9 1196.8"/>
<polygon class="ah" points="2188.9,547.6 2190.9,559.6 2186.9,559.6"/>
<polygon class="ah" points="2188.9,1196.8 2186.9,1184.8 2190.9,1184.8"/>
<g transform="translate(2185.5 925) rotate(-90)">
<g style="font-family:'Liberation Serif';font-size:47.3px;fill:#1c1c1c;stroke:#fff;stroke-width:0.3;text-anchor:middle">
<text transform="matrix(0.808 0 0 1 9 0)">3</text>
<text transform="matrix(0.808 0 0 1 30.3 0)">2</text>
<text transform="matrix(1.02 0 0 1 47.3 0)">.</text>
<text transform="matrix(0.808 0 0 1 72.7 0)">0</text>
<text transform="matrix(0.808 0 0 1 94 0)">0</text>
</g>
</g>
<path class="d" d="M2319.8 1202L2319.8 1354.4"/>
<path class="d" d="M2969.2 1202L2969.2 1354.4"/>
<path class="d" d="M2319.8 1349L2969.2 1349"/>
<polygon class="ah" points="2319.8,1349 2331.8,1347 2331.8,1351"/>
<polygon class="ah" points="2969.2,1349 2957.2,1351 2957.2,1347"/>
<g transform="translate(2591.5 1343.6)">
<g style="font-family:'Liberation Serif';font-size:46px;fill:#1c1c1c;stroke:#fff;stroke-width:0.4;text-anchor:middle">
<text transform="matrix(0.844 0 0 1 9.2 0)">3</text>
<text transform="matrix(0.844 0 0 1 30.7 0)">2</text>
<text transform="matrix(1.02 0 0 1 47.9 0)">.</text>
<text transform="matrix(0.844 0 0 1 73.8 0)">0</text>
<text transform="matrix(0.844 0 0 1 95.3 0)">0</text>
</g>
</g>
<path class="d" d="M2343.9 667.6L2343.9 691.8"/>
<path class="d" d="M2343.9 674.3L2644.4 674.3"/>
<polygon class="ah" points="2343.9,674.3 2355.9,672.3 2355.9,676.3"/>
<polygon class="ah" points="2644.4,674.3 2632.4,676.3 2632.4,672.3"/>
<g transform="translate(2443.4 669.2)">
<g style="font-family:'Liberation Serif';font-size:44.6px;fill:#1c1c1c;stroke:#fff;stroke-width:0.4;text-anchor:middle">
<text transform="matrix(0.842 0 0 1 8.9 0)">1</text>
<text transform="matrix(0.842 0 0 1 29.7 0)">4</text>
<text transform="matrix(1.02 0 0 1 46.4 0)">.</text>
<text transform="matrix(0.842 0 0 1 71.5 0)">8</text>
<text transform="matrix(0.842 0 0 1 92.3 0)">0</text>
</g>
</g>
<path class="d" d="M2688.9 577.2L2706.3 577.2"/>
<path class="d" d="M2690 872L2706.3 872"/>
<path class="d" d="M2698.6 577.2L2698.6 872"/>
<polygon class="ah" points="2698.6,577.2 2700.6,589.2 2696.6,589.2"/>
<polygon class="ah" points="2698.6,872 2696.6,860 2700.6,860"/>
<g transform="translate(2693.8 777) rotate(-90)">
<g style="font-family:'Liberation Serif';font-size:47px;fill:#1c1c1c;stroke:#fff;stroke-width:0.3;text-anchor:middle">
<text transform="matrix(0.789 0 0 1 8.8 0)">1</text>
<text transform="matrix(0.789 0 0 1 29.4 0)">4</text>
<text transform="matrix(1.02 0 0 1 45.9 0)">.</text>
<text transform="matrix(0.789 0 0 1 70.6 0)">5</text>
<text transform="matrix(0.789 0 0 1 91.2 0)">0</text>
</g>
</g>
<path class="d" d="M2461.7 898.5L2461.7 947.7"/>
<path class="d" d="M2827.1 898.5L2827.1 947.7"/>
<path class="d" d="M2461.7 941.6L2827.1 941.6"/>
<polygon class="ah" points="2461.7,941.6 2473.7,939.6 2473.7,943.6"/>
<polygon class="ah" points="2827.1,941.6 2815.1,943.6 2815.1,939.6"/>
<g transform="translate(2593.5 936.4)">
<g style="font-family:'Liberation Serif';font-size:46.1px;fill:#1c1c1c;stroke:#fff;stroke-width:0.4;text-anchor:middle">
<text transform="matrix(0.825 0 0 1 9 0)">1</text>
<text transform="matrix(0.825 0 0 1 30.1 0)">8</text>
<text transform="matrix(1.02 0 0 1 47 0)">.</text>
<text transform="matrix(0.825 0 0 1 72.4 0)">0</text>
<text transform="matrix(0.825 0 0 1 93.5 0)">0</text>
</g>
</g>
<path class="d" d="M2854 872L2881 872"/>
<path class="d" d="M2874.7 872L2874.7 1137.2"/>
<polygon class="ah" points="2874.7,872 2876.7,884 2872.7,884"/>
<polygon class="ah" points="2874.7,1137.2 2872.7,1125.2 2876.7,1125.2"/>
<g transform="translate(2870.9 1045.5) rotate(-90)">
<g style="font-family:'Liberation Serif';font-size:39.5px;fill:#1c1c1c;stroke:#fff;stroke-width:0.1;text-anchor:middle">
<text transform="matrix(0.741 0 0 1 6.9 0)">1</text>
<text transform="matrix(0.741 0 0 1 23.2 0)">3</text>
<text transform="matrix(1.005 0 0 1 36.2 0)">.</text>
<text transform="matrix(0.741 0 0 1 55.8 0)">0</text>
<text transform="matrix(0.741 0 0 1 72.1 0)">8</text>
</g>
</g>
<path class="d" d="M2431 902.4L2595.6 734.4"/>
<polygon class="ah" points="2475.1,857.7 2482.1,847.7 2484.9,850.5"/>
<polygon class="ah" points="2447.5,885.9 2440.5,895.9 2437.7,893.1"/>
<g transform="translate(2491.2 832.2) rotate(-45.6)">
<circle class="d" cx="9.6" cy="-15.1" r="9.3"/>
<path class="d" d="M0 -5.7L19.1 -24.4"/>
<g transform="translate(22 0)">
<text style="font-family:'Liberation Sans';font-size:42.2px;fill:#1c1c1c;stroke:#fff;stroke-width:0.4" textLength="115" lengthAdjust="spacingAndGlyphs">1.80*2</text>
</g></g>
<path class="d" d="M2805 752.6L2967.5 534.9"/>
<polygon class="ah" points="2901.4,626.7 2896.9,635.8 2894,633.6"/>
<polygon class="ah" points="2959.2,545 2963.7,535.9 2966.6,538.1"/>
<g transform="translate(2808.7 738.5) rotate(-53.2)">
<circle class="d" cx="8" cy="-12.5" r="7.7"/>
<path class="d" d="M-0.9 -5.9L16.8 -19.1"/>
<g transform="translate(18.2 0)">
<text style="font-family:'Liberation Sans';font-size:34.9px;fill:#1c1c1c;stroke:#fff;stroke-width:0.3" textLength="94.8" lengthAdjust="spacingAndGlyphs">4.00*4</text>
</g></g>
<path class="d" d="M2889.2 784.9L2937.2 541.3"/>
<polygon class="ah" points="2922.5,617.5 2922.3,627.7 2918.8,627"/>
<polygon class="ah" points="2934.4,555.1 2934.6,544.9 2938.1,545.6"/>
<g transform="translate(2885.3 773.7) rotate(-78.8)">
<circle class="d" cx="8" cy="-12.5" r="7.7"/>
<path class="d" d="M-2.8 -10.3L18.8 -14.6"/>
<g transform="translate(18.2 0)">
<text style="font-family:'Liberation Sans';font-size:34.9px;fill:#1c1c1c;stroke:#fff;stroke-width:0.3" textLength="96.6" lengthAdjust="spacingAndGlyphs">2.20*4</text>
</g></g>
<g transform="translate(31.6 1506)">
<g style="font-family:'Liberation Serif';font-size:45.8px;fill:#1c1c1c;stroke:#fff;stroke-width:0.6;text-anchor:middle">
<text transform="matrix(0.792 0 0 1 10.5 0)">L</text>
<text transform="matrix(1.09 0 0 1 35.1 0)">e</text>
<text transform="matrix(0.968 0 0 1 59.7 0)">n</text>
<text transform="matrix(1.02 0 0 1 84.3 0)">s</text>
<text transform="matrix(0.87 0 0 1 133.6 0)">S</text>
<text transform="matrix(0.968 0 0 1 158.2 0)">p</text>
<text transform="matrix(1.09 0 0 1 182.8 0)">e</text>
<text transform="matrix(1.09 0 0 1 207.4 0)">c</text>
<text transform="matrix(1.02 0 0 1 232.1 0)">i</text>
<text transform="matrix(1.02 0 0 1 256.7 0)">f</text>
<text transform="matrix(1.02 0 0 1 281.3 0)">i</text>
<text transform="matrix(1.09 0 0 1 305.9 0)">c</text>
<text transform="matrix(1.09 0 0 1 330.5 0)">a</text>
<text transform="matrix(1.02 0 0 1 355.2 0)">t</text>
<text transform="matrix(1.02 0 0 1 379.8 0)">i</text>
<text transform="matrix(0.968 0 0 1 404.4 0)">o</text>
<text transform="matrix(0.968 0 0 1 429 0)">n</text>
</g>
</g>
<rect class="o" x="23.3" y="1534.6" width="636.3" height="301.7"/>
<path class="o" d="M23.3 1595.2L659.6 1595.2"/>
<path class="o" d="M23.3 1655.3L659.6 1655.3"/>
<path class="o" d="M23.3 1715.5L659.6 1715.5"/>
<path class="o" d="M23.3 1775.3L659.6 1775.3"/>
<path class="o" d="M341.4 1595.2L341.4 1836.3"/>
<g transform="translate(49.1 1576.4)">
<g style="font-family:'Liberation Serif';font-size:44.4px;fill:#1c1c1c;stroke:#fff;stroke-width:0.6;text-anchor:middle">
<text transform="matrix(0.616 0 0 1 9.3 0)">O</text>
<text transform="matrix(0.889 0 0 1 31.3 0)">p</text>
<text transform="matrix(1.02 0 0 1 53.2 0)">t</text>
<text transform="matrix(1.02 0 0 1 75.2 0)">i</text>
<text transform="matrix(1.001 0 0 1 97.1 0)">c</text>
<text transform="matrix(1.001 0 0 1 119 0)">a</text>
<text transform="matrix(1.02 0 0 1 141 0)">l</text>
<text transform="matrix(0.799 0 0 1 184.9 0)">S</text>
<text transform="matrix(0.889 0 0 1 206.8 0)">p</text>
<text transform="matrix(1.001 0 0 1 228.7 0)">e</text>
<text transform="matrix(1.001 0 0 1 250.7 0)">c</text>
<text transform="matrix(1.02 0 0 1 272.6 0)">i</text>
<text transform="matrix(1.02 0 0 1 294.6 0)">f</text>
<text transform="matrix(1.02 0 0 1 316.5 0)">i</text>
<text transform="matrix(1.001 0 0 1 338.5 0)">c</text>
<text transform="matrix(1.001 0 0 1 360.4 0)">a</text>
<text transform="matrix(1.02 0 0 1 382.3 0)">t</text>
<text transform="matrix(1.02 0 0 1 404.3 0)">i</text>
<text transform="matrix(0.889 0 0 1 426.2 0)">o</text>
<text transform="matrix(0.889 0 0 1 448.2 0)">n</text>
</g>
</g>
<g transform="translate(51.4 1639)">
<g style="font-family:'Liberation Serif';font-size:44.4px;fill:#1c1c1c;stroke:#fff;stroke-width:0.6;text-anchor:middle">
<text transform="matrix(0.825 0 0 1 9.6 0)">F</text>
<text transform="matrix(0.918 0 0 1 32.3 0)">o</text>
<text transform="matrix(1.034 0 0 1 54.9 0)">c</text>
<text transform="matrix(1.034 0 0 1 77.6 0)">a</text>
<text transform="matrix(1.02 0 0 1 100.2 0)">l</text>
<text transform="matrix(0.751 0 0 1 145.5 0)">L</text>
<text transform="matrix(1.034 0 0 1 168.2 0)">e</text>
<text transform="matrix(0.918 0 0 1 190.8 0)">n</text>
<text transform="matrix(0.918 0 0 1 213.5 0)">g</text>
<text transform="matrix(1.02 0 0 1 236.1 0)">t</text>
<text transform="matrix(0.918 0 0 1 258.8 0)">h</text>
</g>
</g>
<g transform="translate(433.3 1637)">
<g style="font-family:'Liberation Serif';font-size:43.7px;fill:#1c1c1c;stroke:#fff;stroke-width:0.2;text-anchor:middle">
<text transform="matrix(0.932 0 0 1 9.6 0)">2</text>
<text transform="matrix(1.02 0 0 1 27.7 0)">.</text>
<text transform="matrix(0.932 0 0 1 54.8 0)">9</text>
<text transform="matrix(0.599 0 0 1 77.5 0)">m</text>
<text transform="matrix(0.599 0 0 1 100.1 0)">m</text>
</g>
</g>
<g transform="translate(91.9 1702.1)">
<g style="font-family:'Liberation Serif';font-size:45.2px;fill:#1c1c1c;stroke:#fff;stroke-width:0.2;text-anchor:middle">
<text transform="matrix(0.771 0 0 1 9.2 0)">F</text>
<text transform="matrix(0.594 0 0 1 30.7 0)">O</text>
<text transform="matrix(0.594 0 0 1 52.2 0)">V</text>
<text transform="matrix(0.999 0 0 1 73.8 0)">(</text>
<text transform="matrix(0.594 0 0 1 95.3 0)">D</text>
<text transform="matrix(0.999 0 0 1 116.8 0)">)</text>
</g>
</g>
<g transform="translate(434.7 1700)">
<g style="font-family:'Liberation Serif';font-size:44.3px;fill:#1c1c1c;stroke:#fff;stroke-width:0.4;text-anchor:middle">
<text transform="matrix(0.917 0 0 1 9.6 0)">1</text>
<text transform="matrix(0.917 0 0 1 32.2 0)">3</text>
<text transform="matrix(0.917 0 0 1 54.7 0)">6</text>
<text transform="matrix(1 0 0 1 75.5 0)">°</text>
</g>
</g>
<g transform="translate(43.3 1761.8)">
<g style="font-family:'Liberation Serif';font-size:45.3px;fill:#1c1c1c;stroke:#fff;stroke-width:0.6;text-anchor:middle">
<text transform="matrix(0.736 0 0 1 9.6 0)">T</text>
<text transform="matrix(0.622 0 0 1 32.3 0)">V</text>
<text transform="matrix(0.622 0 0 1 77.6 0)">D</text>
<text transform="matrix(1.02 0 0 1 100.2 0)">i</text>
<text transform="matrix(1.02 0 0 1 122.9 0)">s</text>
<text transform="matrix(1.02 0 0 1 145.5 0)">t</text>
<text transform="matrix(0.899 0 0 1 168.1 0)">o</text>
<text transform="matrix(1.02 0 0 1 190.8 0)">r</text>
<text transform="matrix(1.02 0 0 1 213.4 0)">t</text>
<text transform="matrix(1.02 0 0 1 236.1 0)">i</text>
<text transform="matrix(0.899 0 0 1 258.7 0)">o</text>
<text transform="matrix(0.899 0 0 1 281.4 0)">n</text>
</g>
</g>
<g transform="translate(430.4 1755.4)">
<g style="font-family:'Liberation Serif';font-size:46.7px;fill:#1c1c1c;stroke:#1c1c1c;stroke-width:0;text-anchor:middle">
<text transform="matrix(0.768 0 0 1 9.6 0)">&lt;</text>
<text transform="matrix(0.768 0 0 1 32.1 0)">−</text>
<text transform="matrix(0.867 0 0 1 54.6 0)">1</text>
<text transform="matrix(0.867 0 0 1 77 0)">8</text>
<text transform="matrix(0.55 0 0 1 99.5 0)">%</text>
</g>
</g>
<g transform="translate(60.7 1820.9)">
<g style="font-family:'Liberation Serif';font-size:44.4px;fill:#1c1c1c;stroke:#fff;stroke-width:0.4;text-anchor:middle">
<text transform="matrix(0.824 0 0 1 9.6 0)">F</text>
<text transform="matrix(1.02 0 0 1 27.7 0)">.</text>
<text transform="matrix(0.635 0 0 1 54.9 0)">N</text>
<text transform="matrix(0.917 0 0 1 77.5 0)">u</text>
<text transform="matrix(0.589 0 0 1 100.1 0)">m</text>
<text transform="matrix(0.917 0 0 1 122.7 0)">b</text>
<text transform="matrix(1.033 0 0 1 145.4 0)">e</text>
<text transform="matrix(1.02 0 0 1 168 0)">r</text>
</g>
</g>
<g transform="translate(433.3 1820.9)">
<g style="font-family:'Liberation Serif';font-size:44.4px;fill:#1c1c1c;stroke:#fff;stroke-width:0.6;text-anchor:middle">
<text transform="matrix(0.901 0 0 1 9.5 0)">2</text>
<text transform="matrix(1.02 0 0 1 27.3 0)">.</text>
<text transform="matrix(0.901 0 0 1 53.9 0)">0</text>
</g>
</g>
<rect class="o" x="703.3" y="1506.4" width="322.5" height="337.6"/>
<path class="o" d="M703.3 1562.2L1025.8 1562.2"/>
<path class="o" d="M703.3 1618.5L1025.8 1618.5"/>
<path class="o" d="M703.3 1675.7L1025.8 1675.7"/>
<path class="o" d="M703.3 1731.5L1025.8 1731.5"/>
<path class="o" d="M703.3 1787.3L1025.8 1787.3"/>
<path class="o" d="M824.5 1506.4L824.5 1844"/>
<g transform="translate(733 1551.1)">
<g style="font-family:'Liberation Serif';font-size:44.9px;fill:#1c1c1c;stroke:#fff;stroke-width:0.3;text-anchor:middle">
<text transform="matrix(0.825 0 0 1 9.7 0)">P</text>
<text transform="matrix(1.02 0 0 1 32.6 0)">I</text>
<text transform="matrix(0.635 0 0 1 55.5 0)">N</text>
</g>
</g>
<g transform="translate(844.6 1552.3)">
<g style="font-family:'Liberation Serif';font-size:46.7px;fill:#1c1c1c;stroke:#1c1c1c;stroke-width:0;text-anchor:middle">
<text transform="matrix(0.78 0 0 1 9.6 0)">S</text>
<text transform="matrix(0.903 0 0 1 32.1 0)">I</text>
<text transform="matrix(0.601 0 0 1 54.6 0)">G</text>
<text transform="matrix(0.601 0 0 1 77.2 0)">N</text>
<text transform="matrix(0.601 0 0 1 99.7 0)">A</text>
<text transform="matrix(0.711 0 0 1 122.2 0)">L</text>
</g>
</g>
<g transform="translate(752.5 1607.7)">
<g style="font-family:'Liberation Serif';font-size:44.9px;fill:#1c1c1c;stroke:#fff;stroke-width:0.5;text-anchor:middle">
<text transform="matrix(0.944 0 0 1 10 0)">1</text>
</g>
</g>
<g transform="translate(831.5 1611.1)">
<g style="font-family:'Liberation Serif';font-size:57.4px;fill:#1c1c1c;stroke:#1c1c1c;stroke-width:0.1;text-anchor:middle">
<text transform="matrix(0.618 0 0 1 12.1 0)">V</text>
<text transform="matrix(0.669 0 0 1 40.5 0)">C</text>
<text transform="matrix(0.669 0 0 1 69 0)">C</text>
<text transform="matrix(0.892 0 0 1 125.9 0)">5</text>
<text transform="matrix(0.618 0 0 1 154.3 0)">V</text>
</g>
</g>
<g transform="translate(754.7 1664.3)">
<g style="font-family:'Liberation Serif';font-size:44.9px;fill:#1c1c1c;stroke:#fff;stroke-width:0.5;text-anchor:middle">
<text transform="matrix(0.944 0 0 1 10 0)">2</text>
</g>
</g>
<g transform="translate(843.5 1667.7)">
<g style="font-family:'Liberation Serif';font-size:57.4px;fill:#1c1c1c;stroke:#1c1c1c;stroke-width:0.1;text-anchor:middle">
<text transform="matrix(0.622 0 0 1 12.2 0)">D</text>
<text transform="matrix(0.796 0 0 1 40.8 0)">−</text>
</g>
</g>
<g transform="translate(754.3 1716.4)">
<g style="font-family:'Liberation Serif';font-size:44.9px;fill:#1c1c1c;stroke:#fff;stroke-width:0.5;text-anchor:middle">
<text transform="matrix(0.944 0 0 1 10 0)">3</text>
</g>
</g>
<g transform="translate(843.5 1723.9)">
<g style="font-family:'Liberation Serif';font-size:57.4px;fill:#1c1c1c;stroke:#1c1c1c;stroke-width:0.1;text-anchor:middle">
<text transform="matrix(0.622 0 0 1 12.2 0)">D</text>
<text transform="matrix(0.796 0 0 1 40.8 0)">+</text>
</g>
</g>
<g transform="translate(756.3 1774.8)">
<g style="font-family:'Liberation Serif';font-size:44.9px;fill:#1c1c1c;stroke:#fff;stroke-width:0.5;text-anchor:middle">
<text transform="matrix(0.944 0 0 1 10 0)">4</text>
</g>
</g>
<g transform="translate(844 1779.1)">
<g style="font-family:'Liberation Serif';font-size:57.4px;fill:#1c1c1c;stroke:#1c1c1c;stroke-width:0.1;text-anchor:middle">
<text transform="matrix(0.621 0 0 1 12.2 0)">G</text>
<text transform="matrix(0.621 0 0 1 40.8 0)">N</text>
<text transform="matrix(0.621 0 0 1 69.3 0)">D</text>
</g>
</g>
<g transform="translate(754.7 1832.3)">
<g style="font-family:'Liberation Serif';font-size:44.9px;fill:#1c1c1c;stroke:#fff;stroke-width:0.5;text-anchor:middle">
<text transform="matrix(0.944 0 0 1 10 0)">5</text>
</g>
</g>
<g transform="translate(844 1834.1)">
<g style="font-family:'Liberation Serif';font-size:57.4px;fill:#1c1c1c;stroke:#1c1c1c;stroke-width:0.1;text-anchor:middle">
<text transform="matrix(0.621 0 0 1 12.2 0)">G</text>
<text transform="matrix(0.621 0 0 1 40.8 0)">N</text>
<text transform="matrix(0.621 0 0 1 69.3 0)">D</text>
</g>
</g>
<g transform="translate(2051 1629.6)">
<g style="font-family:'Liberation Serif';font-size:60.8px;fill:#1c1c1c;stroke:#1c1c1c;stroke-width:0.1;text-anchor:middle">
<text transform="matrix(0.656 0 0 1 13.6 0)">N</text>
<text transform="matrix(0.656 0 0 1 45.6 0)">O</text>
<text transform="matrix(0.776 0 0 1 77.6 0)">T</text>
<text transform="matrix(0.776 0 0 1 109.6 0)">E</text>
</g>
</g>
<g transform="translate(2049 1688.2)">
<g style="font-family:'Liberation Serif';font-size:38.9px;fill:#1c1c1c;stroke:#1c1c1c;stroke-width:0.1;text-anchor:middle">
<text transform="matrix(0.68 0 0 1 6.2 0)">1</text>
</g>
</g>
<g transform="translate(2108.9 1688.2)">
<g style="font-family:'Liberation Serif';font-size:42.3px;fill:#1c1c1c;stroke:#fff;stroke-width:0.5;text-anchor:middle">
<text transform="matrix(0.716 0 0 1 8.7 0)">T</text>
<text transform="matrix(0.874 0 0 1 29.3 0)">h</text>
<text transform="matrix(0.985 0 0 1 49.8 0)">e</text>
<text transform="matrix(0.874 0 0 1 90.9 0)">u</text>
<text transform="matrix(0.874 0 0 1 111.4 0)">n</text>
<text transform="matrix(0.562 0 0 1 132 0)">m</text>
<text transform="matrix(0.985 0 0 1 152.5 0)">a</text>
<text transform="matrix(1.02 0 0 1 173 0)">r</text>
<text transform="matrix(0.874 0 0 1 193.6 0)">k</text>
<text transform="matrix(0.985 0 0 1 214.1 0)">e</text>
<text transform="matrix(0.874 0 0 1 234.6 0)">d</text>
<text transform="matrix(1.02 0 0 1 275.7 0)">t</text>
<text transform="matrix(0.874 0 0 1 296.3 0)">o</text>
<text transform="matrix(1.02 0 0 1 316.8 0)">l</text>
<text transform="matrix(0.985 0 0 1 337.3 0)">e</text>
<text transform="matrix(1.02 0 0 1 357.9 0)">r</text>
<text transform="matrix(0.985 0 0 1 378.4 0)">a</text>
<text transform="matrix(0.874 0 0 1 398.9 0)">n</text>
<text transform="matrix(0.985 0 0 1 419.5 0)">c</text>
<text transform="matrix(0.985 0 0 1 440 0)">e</text>
<text transform="matrix(0.874 0 0 1 481.1 0)">o</text>
<text transform="matrix(1.02 0 0 1 501.6 0)">f</text>
<text transform="matrix(1.02 0 0 1 542.7 0)">l</text>
<text transform="matrix(1.02 0 0 1 563.2 0)">i</text>
<text transform="matrix(0.874 0 0 1 583.8 0)">n</text>
<text transform="matrix(0.985 0 0 1 604.3 0)">e</text>
<text transform="matrix(0.985 0 0 1 624.8 0)">a</text>
<text transform="matrix(1.02 0 0 1 645.4 0)">r</text>
<text transform="matrix(0.874 0 0 1 686.5 0)">d</text>
<text transform="matrix(1.02 0 0 1 707 0)">i</text>
<text transform="matrix(0.562 0 0 1 727.5 0)">m</text>
<text transform="matrix(0.985 0 0 1 748.1 0)">e</text>
<text transform="matrix(0.874 0 0 1 768.6 0)">n</text>
<text transform="matrix(1.02 0 0 1 789.1 0)">s</text>
<text transform="matrix(1.02 0 0 1 809.7 0)">i</text>
<text transform="matrix(0.874 0 0 1 830.2 0)">o</text>
<text transform="matrix(0.874 0 0 1 850.8 0)">n</text>
<text transform="matrix(1.02 0 0 1 891.8 0)">i</text>
<text transform="matrix(1.02 0 0 1 912.4 0)">s</text>
<path d="M948.3 -15.8H979.1M963.7 -29.9V-5M948.3 0H979.1" style="fill:none;stroke:#1c1c1c;stroke-width:1.5"/>
<text transform="matrix(0.874 0 0 1 994.5 0)">0</text>
<text transform="matrix(1.02 0 0 1 1011 0)">.</text>
<text transform="matrix(0.874 0 0 1 1035.6 0)">1</text>
<text transform="matrix(0.562 0 0 1 1056.1 0)">m</text>
<text transform="matrix(0.562 0 0 1 1076.7 0)">m</text>
</g>
</g>
<g transform="translate(2046 1759.5)">
<g style="font-family:'Liberation Serif';font-size:39.7px;fill:#1c1c1c;stroke:#fff;stroke-width:0.3;text-anchor:middle">
<text transform="matrix(0.88 0 0 1 8.2 0)">2</text>
</g>
</g>
<g transform="translate(2107.8 1759.5)">
<g style="font-family:'Liberation Serif';font-size:42px;fill:#1c1c1c;stroke:#fff;stroke-width:0.4;text-anchor:middle">
<text transform="matrix(0.79 0 0 1 8.7 0)">S</text>
<text transform="matrix(0.989 0 0 1 29.2 0)">e</text>
<text transform="matrix(0.878 0 0 1 49.7 0)">n</text>
<text transform="matrix(1.02 0 0 1 70.2 0)">s</text>
<text transform="matrix(0.878 0 0 1 90.6 0)">o</text>
<text transform="matrix(1.02 0 0 1 111.1 0)">r</text>
<text transform="matrix(1.02 0 0 1 152.1 0)">:</text>
<text transform="matrix(1.02 0 0 1 172.6 0)">J</text>
<text transform="matrix(0.608 0 0 1 193.1 0)">X</text>
<text transform="matrix(0.779 0 0 1 213.5 0)">−</text>
<text transform="matrix(0.79 0 0 1 234 0)">F</text>
<text transform="matrix(0.878 0 0 1 254.5 0)">2</text>
<text transform="matrix(0.878 0 0 1 275 0)">2</text>
</g>
</g>
<g transform="translate(2046 1831.4)">
<g style="font-family:'Liberation Serif';font-size:39.7px;fill:#1c1c1c;stroke:#fff;stroke-width:0.3;text-anchor:middle">
<text transform="matrix(0.88 0 0 1 8.2 0)">3</text>
</g>
</g>
<g transform="translate(2110.6 1831.4)">
<g style="font-family:'Liberation Serif';font-size:41.4px;fill:#1c1c1c;stroke:#fff;stroke-width:0.6;text-anchor:middle">
<text transform="matrix(1.02 0 0 1 8.6 0)">I</text>
<text transform="matrix(0.566 0 0 1 28.8 0)">m</text>
<text transform="matrix(0.992 0 0 1 49.1 0)">a</text>
<text transform="matrix(0.88 0 0 1 69.3 0)">g</text>
<text transform="matrix(0.992 0 0 1 89.5 0)">e</text>
<text transform="matrix(0.88 0 0 1 130 0)">d</text>
<text transform="matrix(1.02 0 0 1 150.2 0)">i</text>
<text transform="matrix(1.02 0 0 1 170.5 0)">r</text>
<text transform="matrix(0.992 0 0 1 190.7 0)">e</text>
<text transform="matrix(0.992 0 0 1 211 0)">c</text>
<text transform="matrix(1.02 0 0 1 231.2 0)">t</text>
<text transform="matrix(1.02 0 0 1 251.4 0)">i</text>
<text transform="matrix(0.88 0 0 1 271.7 0)">o</text>
<text transform="matrix(0.88 0 0 1 291.9 0)">n</text>
<text transform="matrix(1.02 0 0 1 332.4 0)">r</text>
<text transform="matrix(0.992 0 0 1 352.6 0)">e</text>
<text transform="matrix(0.88 0 0 1 372.8 0)">g</text>
<text transform="matrix(1.02 0 0 1 393.1 0)">i</text>
<text transform="matrix(1.02 0 0 1 413.3 0)">s</text>
<text transform="matrix(1.02 0 0 1 433.5 0)">t</text>
<text transform="matrix(0.992 0 0 1 453.8 0)">e</text>
<text transform="matrix(1.02 0 0 1 474 0)">r</text>
<text transform="matrix(0.88 0 0 1 514.5 0)">u</text>
<text transform="matrix(1.02 0 0 1 534.7 0)">s</text>
<text transform="matrix(0.992 0 0 1 555 0)">e</text>
<text transform="matrix(0.88 0 0 1 595.4 0)">d</text>
<text transform="matrix(0.992 0 0 1 615.7 0)">e</text>
<text transform="matrix(1.02 0 0 1 635.9 0)">f</text>
<text transform="matrix(0.992 0 0 1 656.1 0)">a</text>
<text transform="matrix(0.88 0 0 1 676.4 0)">u</text>
<text transform="matrix(1.02 0 0 1 696.6 0)">l</text>
<text transform="matrix(1.02 0 0 1 716.8 0)">t</text>
<text transform="matrix(1.02 0 0 1 757.3 0)">s</text>
<text transform="matrix(0.992 0 0 1 777.6 0)">e</text>
<text transform="matrix(1.02 0 0 1 797.8 0)">t</text>
<text transform="matrix(1.02 0 0 1 818 0)">t</text>
<text transform="matrix(1.02 0 0 1 838.3 0)">i</text>
<text transform="matrix(0.88 0 0 1 858.5 0)">n</text>
<text transform="matrix(0.88 0 0 1 878.7 0)">g</text>
<text transform="matrix(1.02 0 0 1 899 0)">s</text>
<text transform="matrix(1.02 0 0 1 915.2 0)">.</text>
</g>
</g>
</svg>
</body></html>
